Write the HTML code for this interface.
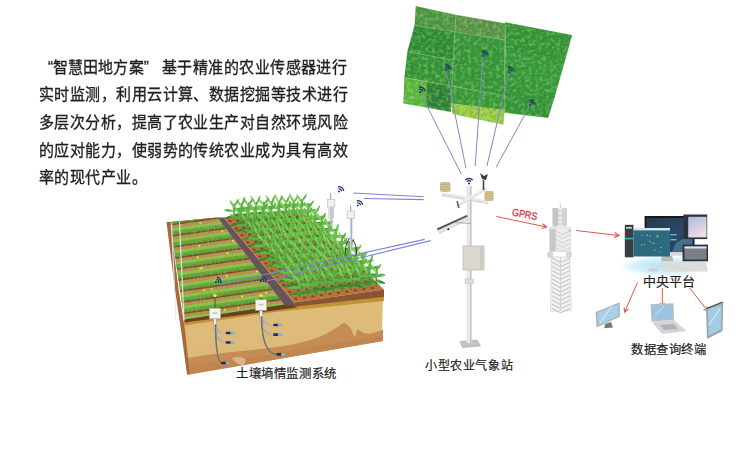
<!DOCTYPE html>
<html lang="zh-CN"><head><meta charset="utf-8"><style>
html,body{margin:0;padding:0;background:#fff;}
body{width:750px;height:473px;overflow:hidden;position:relative;font-family:"Liberation Sans",sans-serif;color:#222;}
.t{position:absolute;white-space:nowrap;font-size:15px;line-height:20px;letter-spacing:0.45px;color:#1f1f1f;-webkit-text-stroke:0.3px #1f1f1f;transform:scaleY(1.09);transform-origin:0 3px;}
.lb{position:absolute;white-space:nowrap;line-height:16px;color:#1e1e1e;-webkit-text-stroke:0.2px #1e1e1e;}
svg{position:absolute;left:0;top:0;}
</style></head><body>
<svg width="750" height="473" viewBox="0 0 750 473">
<defs>
<clipPath id="fclip"><polygon points="415.9,6.3 455.9,15.0 454.6,31.5 414.7,25.4" fill="#000" /><polygon points="455.9,15.0 505.2,23.5 504.8,40.0 454.6,31.5" fill="#000" /><polygon points="414.7,25.4 454.6,31.5 453.0,60.0 407.5,51.7" fill="#000" /><polygon points="407.5,51.7 453.0,60.0 451.5,86.0 404.5,77.5" fill="#000" /><polygon points="404.5,77.5 427.2,82.0 427.2,107.5 403.5,103.3" fill="#000" /><polygon points="427.2,82.0 451.5,86.0 450.8,111.8 427.2,107.5" fill="#000" /><polygon points="454.6,31.5 504.8,40.0 504.6,95.7 451.5,86.0" fill="#000" /><polygon points="451.5,86.0 504.6,95.7 504.6,110.0 451.0,103.5" fill="#000" /><polygon points="451.0,103.5 504.6,110.0 503.3,124.5 452.5,114.0" fill="#000" /><polygon points="505.2,22.7 571.8,35.4 565.5,58.5 505.5,48.0" fill="#000" /><polygon points="505.5,48.0 565.5,58.5 554.5,97.0 504.6,86.0" fill="#000" /><polygon points="504.6,86.0 554.5,97.0 548.0,117.7 504.6,112.5" fill="#000" /></clipPath>
<clipPath id="cornclip"><rect x="150" y="150" width="235" height="200"/></clipPath>
<clipPath id="gclip"><polygon points="170.0,222.0 217.4,217.4 284.8,305.5 184.5,320.5" fill="#000" /></clipPath>
<filter id="noise" x="0" y="0" width="1" height="1"><feTurbulence type="fractalNoise" baseFrequency="0.3" numOctaves="2" seed="5"/><feColorMatrix type="matrix" values="0 0 0 0 0.05  0 0 0 0 0.25  0 0 0 0 0.05  1.3 0 0 0 -0.55"/></filter>
<filter id="noiseL" x="0" y="0" width="1" height="1"><feTurbulence type="fractalNoise" baseFrequency="0.28" numOctaves="3" seed="11"/><feColorMatrix type="matrix" values="0 0 0 0 0.42  0 0 0 0 0.78  0 0 0 0 0.25  1.1 0 0 0 -0.47"/></filter>
<filter id="noise2" x="0" y="0" width="1" height="1"><feTurbulence type="fractalNoise" baseFrequency="1.5 0.2" numOctaves="1" seed="9"/><feColorMatrix type="matrix" values="0 0 0 0 0.3  0 0 0 0 0.55  0 0 0 0 0.15  1.2 0 0 0 -0.5"/></filter>
<linearGradient id="sand" x1="0" y1="0" x2="0" y2="1"><stop offset="0" stop-color="#dfbd78"/><stop offset="1" stop-color="#dcb87a"/></linearGradient>
<linearGradient id="fadew" x1="0" y1="0" x2="0" y2="1"><stop offset="0" stop-color="#fff" stop-opacity="0"/><stop offset="1" stop-color="#f4ece0" stop-opacity="0.8"/></linearGradient>
<radialGradient id="glow"><stop offset="0" stop-color="#b4e2f0"/><stop offset="0.65" stop-color="#d2eef8" stop-opacity="0.8"/><stop offset="1" stop-color="#fff" stop-opacity="0"/></radialGradient>
<linearGradient id="tabg" x1="0" y1="0" x2="0.4" y2="1"><stop offset="0" stop-color="#a8c0e0"/><stop offset="0.6" stop-color="#d4cce0"/><stop offset="1" stop-color="#f0dce6"/></linearGradient>
<linearGradient id="monb" x1="0" y1="0" x2="1" y2="1"><stop offset="0" stop-color="#25384e"/><stop offset="0.6" stop-color="#2c4a66"/><stop offset="1" stop-color="#1c2c40"/></linearGradient>
</defs>
<g id="fld"><polygon points="415.9,6.3 455.9,15.0 454.6,31.5 414.7,25.4" fill="#4e9440" stroke="#4e9440" stroke-width="0.3"/><polygon points="455.9,15.0 505.2,23.5 504.8,40.0 454.6,31.5" fill="#5c924a" stroke="#5c924a" stroke-width="0.3"/><polygon points="414.7,25.4 454.6,31.5 453.0,60.0 407.5,51.7" fill="#2a8a32" stroke="#2a8a32" stroke-width="0.3"/><polygon points="407.5,51.7 453.0,60.0 451.5,86.0 404.5,77.5" fill="#309236" stroke="#309236" stroke-width="0.3"/><polygon points="404.5,77.5 427.2,82.0 427.2,107.5 403.5,103.3" fill="#5cb83c" stroke="#5cb83c" stroke-width="0.3"/><polygon points="427.2,82.0 451.5,86.0 450.8,111.8 427.2,107.5" fill="#2b7e34" stroke="#2b7e34" stroke-width="0.3"/><polygon points="454.6,31.5 504.8,40.0 504.6,95.7 451.5,86.0" fill="#349438" stroke="#349438" stroke-width="0.3"/><polygon points="451.5,86.0 504.6,95.7 504.6,110.0 451.0,103.5" fill="#379836" stroke="#379836" stroke-width="0.3"/><polygon points="451.0,103.5 504.6,110.0 503.3,124.5 452.5,114.0" fill="#a4d044" stroke="#a4d044" stroke-width="0.3"/><polygon points="505.2,22.7 571.8,35.4 565.5,58.5 505.5,48.0" fill="#2f9334" stroke="#2f9334" stroke-width="0.3"/><polygon points="505.5,48.0 565.5,58.5 554.5,97.0 504.6,86.0" fill="#34983a" stroke="#34983a" stroke-width="0.3"/><polygon points="504.6,86.0 554.5,97.0 548.0,117.7 504.6,112.5" fill="#329336" stroke="#329336" stroke-width="0.3"/></g><g clip-path="url(#fclip)"><rect x="400" y="0" width="175" height="130" filter="url(#noise)"/><rect x="400" y="0" width="175" height="130" filter="url(#noiseL)"/></g><line x1="414.7" y1="25.4" x2="504.8" y2="40.0" stroke="#a8d080" stroke-width="0.70" opacity="0.6"/><line x1="407.5" y1="51.7" x2="453.0" y2="60.0" stroke="#a8d080" stroke-width="0.70" opacity="0.6"/><line x1="404.5" y1="77.5" x2="504.6" y2="95.7" stroke="#a8d080" stroke-width="0.70" opacity="0.6"/><line x1="455.9" y1="15.0" x2="451.0" y2="104.0" stroke="#a8d080" stroke-width="0.70" opacity="0.6"/><line x1="505.2" y1="22.7" x2="504.6" y2="112.5" stroke="#a8d080" stroke-width="0.70" opacity="0.6"/><line x1="505.5" y1="48.0" x2="565.5" y2="58.5" stroke="#1f6a26" stroke-width="0.70" opacity="0.6"/><line x1="504.6" y1="86.0" x2="554.5" y2="97.0" stroke="#1f6a26" stroke-width="0.70" opacity="0.6"/><line x1="427.2" y1="82.0" x2="427.2" y2="107.5" stroke="#1f6a26" stroke-width="0.70" opacity="0.6"/><line x1="505.2" y1="22.7" x2="571.8" y2="35.4" stroke="#1f6a26" stroke-width="0.70" opacity="0.6"/><line x1="420.0" y1="92.0" x2="461.3" y2="174.2" stroke="#7f88cc" stroke-width="1.00" /><line x1="446.0" y1="70.0" x2="466.0" y2="168.4" stroke="#7f88cc" stroke-width="1.00" /><line x1="483.0" y1="56.0" x2="475.2" y2="166.0" stroke="#7f88cc" stroke-width="1.00" /><line x1="509.0" y1="72.0" x2="486.9" y2="166.0" stroke="#7f88cc" stroke-width="1.00" /><line x1="530.0" y1="105.0" x2="496.2" y2="167.2" stroke="#7f88cc" stroke-width="1.00" /><g transform="translate(420.0,92.0) rotate(35.0) scale(1.05)"><circle cx="0" cy="0" r="1" fill="#28336e"/><path d="M-2.00,-1.81 A2.7,2.7 0 0 1 2.00,-1.81" fill="none" stroke="#28336e" stroke-width="1.30"/><path d="M-3.55,-3.22 A4.8,4.8 0 0 1 3.55,-3.22" fill="none" stroke="#28336e" stroke-width="1.30"/></g><g transform="translate(446.0,70.0) rotate(35.0) scale(1.05)"><circle cx="0" cy="0" r="1" fill="#28336e"/><path d="M-2.00,-1.81 A2.7,2.7 0 0 1 2.00,-1.81" fill="none" stroke="#28336e" stroke-width="1.30"/><path d="M-3.55,-3.22 A4.8,4.8 0 0 1 3.55,-3.22" fill="none" stroke="#28336e" stroke-width="1.30"/></g><g transform="translate(483.0,56.0) rotate(35.0) scale(1.05)"><circle cx="0" cy="0" r="1" fill="#28336e"/><path d="M-2.00,-1.81 A2.7,2.7 0 0 1 2.00,-1.81" fill="none" stroke="#28336e" stroke-width="1.30"/><path d="M-3.55,-3.22 A4.8,4.8 0 0 1 3.55,-3.22" fill="none" stroke="#28336e" stroke-width="1.30"/></g><g transform="translate(509.0,72.0) rotate(35.0) scale(1.05)"><circle cx="0" cy="0" r="1" fill="#28336e"/><path d="M-2.00,-1.81 A2.7,2.7 0 0 1 2.00,-1.81" fill="none" stroke="#28336e" stroke-width="1.30"/><path d="M-3.55,-3.22 A4.8,4.8 0 0 1 3.55,-3.22" fill="none" stroke="#28336e" stroke-width="1.30"/></g><g transform="translate(530.0,105.0) rotate(35.0) scale(1.05)"><circle cx="0" cy="0" r="1" fill="#28336e"/><path d="M-2.00,-1.81 A2.7,2.7 0 0 1 2.00,-1.81" fill="none" stroke="#28336e" stroke-width="1.30"/><path d="M-3.55,-3.22 A4.8,4.8 0 0 1 3.55,-3.22" fill="none" stroke="#28336e" stroke-width="1.30"/></g><polygon points="183.5,321.0 275.0,307.5 310.0,304.0 383.0,293.5 381.8,341.0 189.0,374.5" fill="url(#sand)"/><path d="M187,358 C220,352 262,350 290,345 C300,343 310,340 317,338 C322,336 326,334 329,332 C333,330 336,328 339,326 C341,324.5 343,322.5 345,323 C347,324 349,326 351,329 C352.5,332 353.5,336 355,336.5 C356,334 356.5,330 358,329.8 C360,330 361,332 363,332.8 C366,333.5 369,334 371,333.5 C374,333 377,331.5 383,329.5 L383,341 L188.7,374.5 Z" fill="#c68c56"/><path d="M187,366 C210,362 250,360 280,352 L383,336 L383,341 L188.7,374.5 Z" fill="#bb7f4a" opacity="0.45"/><path d="M232,358 C238,356 244,357 246,360 L243,366 C238,364 234,362 232,358 Z" fill="#e2c8a8" opacity="0.7"/><polygon points="184.5,321.5 275,308 310,304.5 384,297 384,301 310,308.5 275,312 184.5,325.5" fill="#c29236"/><polygon points="166.5,222.0 170.0,221.7 178.7,290.0 185.0,330.0 189.7,374.5 187.0,374.5 181.0,330.0 175.0,290.0" fill="#a8683a" /><polygon points="170.0,222.0 217.4,217.4 284.8,305.5 184.5,320.5" fill="#c08850" /><g clip-path="url(#gclip)"><polygon points="160.0,218.6 300.0,198.7 300.0,205.6 160.0,225.5" fill="#62a636" /><polygon points="160.0,218.6 300.0,198.7 300.0,201.7 160.0,221.6" fill="#96c04c" opacity="0.90"/><polygon points="160.0,224.0 300.0,204.1 300.0,205.6 160.0,225.5" fill="#4f9530" opacity="0.70"/><polygon points="160.0,214.2 300.0,194.3 300.0,195.8 160.0,215.7" fill="#6a4020" opacity="0.90"/><circle cx="219.3" cy="209.1" r="1.1" fill="#f2e23c"/><circle cx="206.3" cy="211.0" r="1.1" fill="#f2e23c"/><polygon points="160.0,229.9 300.0,210.0 300.0,216.9 160.0,236.8" fill="#62a636" /><polygon points="160.0,229.9 300.0,210.0 300.0,213.0 160.0,232.9" fill="#96c04c" opacity="0.90"/><polygon points="160.0,235.3 300.0,215.4 300.0,216.9 160.0,236.8" fill="#4f9530" opacity="0.70"/><polygon points="160.0,225.5 300.0,205.6 300.0,207.1 160.0,227.0" fill="#6a4020" opacity="0.90"/><circle cx="243.8" cy="217.0" r="1.1" fill="#f2e23c"/><circle cx="200.4" cy="223.1" r="1.1" fill="#f2e23c"/><polygon points="160.0,241.2 300.0,221.3 300.0,228.2 160.0,248.1" fill="#62a636" /><polygon points="160.0,241.2 300.0,221.3 300.0,224.3 160.0,244.2" fill="#96c04c" opacity="0.90"/><polygon points="160.0,246.6 300.0,226.7 300.0,228.2 160.0,248.1" fill="#4f9530" opacity="0.70"/><polygon points="160.0,236.8 300.0,216.9 300.0,218.4 160.0,238.3" fill="#6a4020" opacity="0.90"/><circle cx="235.2" cy="229.5" r="1.1" fill="#f2e23c"/><circle cx="222.4" cy="231.3" r="1.1" fill="#f2e23c"/><polygon points="160.0,252.5 300.0,232.6 300.0,239.5 160.0,259.4" fill="#62a636" /><polygon points="160.0,252.5 300.0,232.6 300.0,235.6 160.0,255.5" fill="#96c04c" opacity="0.90"/><polygon points="160.0,257.9 300.0,238.0 300.0,239.5 160.0,259.4" fill="#4f9530" opacity="0.70"/><polygon points="160.0,248.1 300.0,228.2 300.0,229.7 160.0,249.6" fill="#6a4020" opacity="0.90"/><circle cx="199.3" cy="245.9" r="1.1" fill="#f2e23c"/><circle cx="233.1" cy="241.1" r="1.1" fill="#f2e23c"/><polygon points="160.0,263.8 300.0,243.9 300.0,250.8 160.0,270.7" fill="#62a636" /><polygon points="160.0,263.8 300.0,243.9 300.0,246.9 160.0,266.8" fill="#96c04c" opacity="0.90"/><polygon points="160.0,269.2 300.0,249.3 300.0,250.8 160.0,270.7" fill="#4f9530" opacity="0.70"/><polygon points="160.0,259.4 300.0,239.5 300.0,241.0 160.0,260.9" fill="#6a4020" opacity="0.90"/><circle cx="197.8" cy="257.4" r="1.1" fill="#f2e23c"/><circle cx="227.5" cy="253.2" r="1.1" fill="#f2e23c"/><polygon points="160.0,275.1 300.0,255.2 300.0,262.1 160.0,282.0" fill="#62a636" /><polygon points="160.0,275.1 300.0,255.2 300.0,258.2 160.0,278.1" fill="#96c04c" opacity="0.90"/><polygon points="160.0,280.5 300.0,260.6 300.0,262.1 160.0,282.0" fill="#4f9530" opacity="0.70"/><polygon points="160.0,270.7 300.0,250.8 300.0,252.3 160.0,272.2" fill="#6a4020" opacity="0.90"/><circle cx="200.2" cy="268.4" r="1.1" fill="#f2e23c"/><circle cx="201.8" cy="268.1" r="1.1" fill="#f2e23c"/><polygon points="160.0,286.4 300.0,266.5 300.0,273.4 160.0,293.3" fill="#62a636" /><polygon points="160.0,286.4 300.0,266.5 300.0,269.5 160.0,289.4" fill="#96c04c" opacity="0.90"/><polygon points="160.0,291.8 300.0,271.9 300.0,273.4 160.0,293.3" fill="#4f9530" opacity="0.70"/><polygon points="160.0,282.0 300.0,262.1 300.0,263.6 160.0,283.5" fill="#6a4020" opacity="0.90"/><circle cx="226.8" cy="275.9" r="1.1" fill="#f2e23c"/><circle cx="257.0" cy="271.6" r="1.1" fill="#f2e23c"/><polygon points="160.0,297.7 300.0,277.8 300.0,284.7 160.0,304.6" fill="#62a636" /><polygon points="160.0,297.7 300.0,277.8 300.0,280.8 160.0,300.7" fill="#96c04c" opacity="0.90"/><polygon points="160.0,303.1 300.0,283.2 300.0,284.7 160.0,304.6" fill="#4f9530" opacity="0.70"/><polygon points="160.0,293.3 300.0,273.4 300.0,274.9 160.0,294.8" fill="#6a4020" opacity="0.90"/><circle cx="204.3" cy="290.4" r="1.1" fill="#f2e23c"/><circle cx="211.7" cy="289.3" r="1.1" fill="#f2e23c"/><polygon points="160.0,309.0 300.0,289.1 300.0,296.0 160.0,315.9" fill="#62a636" /><polygon points="160.0,309.0 300.0,289.1 300.0,292.1 160.0,312.0" fill="#96c04c" opacity="0.90"/><polygon points="160.0,314.4 300.0,294.5 300.0,296.0 160.0,315.9" fill="#4f9530" opacity="0.70"/><polygon points="160.0,304.6 300.0,284.7 300.0,286.2 160.0,306.1" fill="#6a4020" opacity="0.90"/><circle cx="242.1" cy="296.3" r="1.1" fill="#f2e23c"/><circle cx="266.1" cy="292.9" r="1.1" fill="#f2e23c"/><polygon points="160.0,320.3 300.0,300.4 300.0,307.3 160.0,327.2" fill="#62a636" /><polygon points="160.0,320.3 300.0,300.4 300.0,303.4 160.0,323.3" fill="#96c04c" opacity="0.90"/><polygon points="160.0,325.7 300.0,305.8 300.0,307.3 160.0,327.2" fill="#4f9530" opacity="0.70"/><polygon points="160.0,315.9 300.0,296.0 300.0,297.5 160.0,317.4" fill="#6a4020" opacity="0.90"/><circle cx="238.3" cy="308.1" r="1.1" fill="#f2e23c"/><circle cx="224.8" cy="310.1" r="1.1" fill="#f2e23c"/><polygon points="160.0,331.6 300.0,311.7 300.0,318.6 160.0,338.5" fill="#62a636" /><polygon points="160.0,331.6 300.0,311.7 300.0,314.7 160.0,334.6" fill="#96c04c" opacity="0.90"/><polygon points="160.0,337.0 300.0,317.1 300.0,318.6 160.0,338.5" fill="#4f9530" opacity="0.70"/><polygon points="160.0,327.2 300.0,307.3 300.0,308.8 160.0,328.7" fill="#6a4020" opacity="0.90"/><circle cx="268.2" cy="315.2" r="1.1" fill="#f2e23c"/><circle cx="198.5" cy="325.1" r="1.1" fill="#f2e23c"/><polygon points="160.0,342.9 300.0,323.0 300.0,329.9 160.0,349.8" fill="#62a636" /><polygon points="160.0,342.9 300.0,323.0 300.0,326.0 160.0,345.9" fill="#96c04c" opacity="0.90"/><polygon points="160.0,348.3 300.0,328.4 300.0,329.9 160.0,349.8" fill="#4f9530" opacity="0.70"/><polygon points="160.0,338.5 300.0,318.6 300.0,320.1 160.0,340.0" fill="#6a4020" opacity="0.90"/><circle cx="259.4" cy="327.8" r="1.1" fill="#f2e23c"/><circle cx="216.7" cy="333.8" r="1.1" fill="#f2e23c"/><rect x="160" y="210" width="140" height="120" filter="url(#noise2)"/></g><polygon points="184.5,319.5 284.8,304.5 296.5,304.5 296.5,307.5 184.5,322.5" fill="#6a4020"/><line x1="171.5" y1="223.0" x2="176.0" y2="320.0" stroke="#d6eef5" stroke-width="1.20" opacity="0.9"/><line x1="179.5" y1="222.0" x2="184.0" y2="320.0" stroke="#d6eef5" stroke-width="1.20" opacity="0.9"/><polygon points="217.4,217.4 223.7,217.4 296.5,305.5 284.8,305.5" fill="#6a5356" /><polygon points="223.5,217.2 302.0,212.0 384.0,289.6 294.2,302.6" fill="#b8743e" /><polygon points="294.2,302.6 384.0,289.6 384.0,297.0 296.0,306.5 294.2,306.5" fill="#8a5530" /><polygon points="229.0,213.8 302.0,209.0 384.0,283.6 300.5,296.7" fill="#6aa845" opacity="0.45" stroke="none"/><ellipse cx="297.7" cy="216.5" rx="1.8" ry="1.1" fill="#8a4222"/><ellipse cx="290.1" cy="217.0" rx="1.8" ry="1.1" fill="#8a4222"/><ellipse cx="282.6" cy="217.5" rx="1.8" ry="1.1" fill="#8a4222"/><ellipse cx="275.1" cy="218.1" rx="1.8" ry="1.1" fill="#8a4222"/><ellipse cx="267.6" cy="218.6" rx="1.8" ry="1.1" fill="#8a4222"/><ellipse cx="260.1" cy="219.1" rx="1.8" ry="1.1" fill="#8a4222"/><ellipse cx="252.5" cy="219.7" rx="1.8" ry="1.1" fill="#8a4222"/><ellipse cx="245.0" cy="220.2" rx="1.8" ry="1.1" fill="#8a4222"/><ellipse cx="237.5" cy="220.7" rx="1.8" ry="1.1" fill="#8a4222"/><ellipse cx="230.0" cy="221.2" rx="1.8" ry="1.1" fill="#8a4222"/><ellipse cx="304.4" cy="223.0" rx="1.8" ry="1.1" fill="#8a4222"/><ellipse cx="296.8" cy="223.6" rx="1.8" ry="1.1" fill="#8a4222"/><ellipse cx="289.2" cy="224.2" rx="1.8" ry="1.1" fill="#8a4222"/><ellipse cx="281.6" cy="224.8" rx="1.8" ry="1.1" fill="#8a4222"/><ellipse cx="274.0" cy="225.3" rx="1.8" ry="1.1" fill="#8a4222"/><ellipse cx="266.4" cy="225.9" rx="1.8" ry="1.1" fill="#8a4222"/><ellipse cx="258.8" cy="226.5" rx="1.8" ry="1.1" fill="#8a4222"/><ellipse cx="251.2" cy="227.1" rx="1.8" ry="1.1" fill="#8a4222"/><ellipse cx="243.6" cy="227.7" rx="1.8" ry="1.1" fill="#8a4222"/><ellipse cx="235.9" cy="228.3" rx="1.8" ry="1.1" fill="#8a4222"/><ellipse cx="311.2" cy="229.5" rx="1.8" ry="1.1" fill="#8a4222"/><ellipse cx="303.5" cy="230.1" rx="1.8" ry="1.1" fill="#8a4222"/><ellipse cx="295.8" cy="230.8" rx="1.8" ry="1.1" fill="#8a4222"/><ellipse cx="288.1" cy="231.4" rx="1.8" ry="1.1" fill="#8a4222"/><ellipse cx="280.4" cy="232.1" rx="1.8" ry="1.1" fill="#8a4222"/><ellipse cx="272.7" cy="232.7" rx="1.8" ry="1.1" fill="#8a4222"/><ellipse cx="265.0" cy="233.4" rx="1.8" ry="1.1" fill="#8a4222"/><ellipse cx="257.3" cy="234.0" rx="1.8" ry="1.1" fill="#8a4222"/><ellipse cx="249.6" cy="234.7" rx="1.8" ry="1.1" fill="#8a4222"/><ellipse cx="241.9" cy="235.3" rx="1.8" ry="1.1" fill="#8a4222"/><ellipse cx="318.0" cy="236.0" rx="1.8" ry="1.1" fill="#8a4222"/><ellipse cx="310.2" cy="236.7" rx="1.8" ry="1.1" fill="#8a4222"/><ellipse cx="302.4" cy="237.4" rx="1.8" ry="1.1" fill="#8a4222"/><ellipse cx="294.7" cy="238.1" rx="1.8" ry="1.1" fill="#8a4222"/><ellipse cx="286.9" cy="238.8" rx="1.8" ry="1.1" fill="#8a4222"/><ellipse cx="279.1" cy="239.5" rx="1.8" ry="1.1" fill="#8a4222"/><ellipse cx="271.3" cy="240.3" rx="1.8" ry="1.1" fill="#8a4222"/><ellipse cx="263.5" cy="241.0" rx="1.8" ry="1.1" fill="#8a4222"/><ellipse cx="255.7" cy="241.7" rx="1.8" ry="1.1" fill="#8a4222"/><ellipse cx="247.9" cy="242.4" rx="1.8" ry="1.1" fill="#8a4222"/><ellipse cx="324.8" cy="242.5" rx="1.8" ry="1.1" fill="#8a4222"/><ellipse cx="316.9" cy="243.3" rx="1.8" ry="1.1" fill="#8a4222"/><ellipse cx="309.1" cy="244.0" rx="1.8" ry="1.1" fill="#8a4222"/><ellipse cx="301.2" cy="244.8" rx="1.8" ry="1.1" fill="#8a4222"/><ellipse cx="293.3" cy="245.6" rx="1.8" ry="1.1" fill="#8a4222"/><ellipse cx="285.4" cy="246.4" rx="1.8" ry="1.1" fill="#8a4222"/><ellipse cx="277.5" cy="247.1" rx="1.8" ry="1.1" fill="#8a4222"/><ellipse cx="269.7" cy="247.9" rx="1.8" ry="1.1" fill="#8a4222"/><ellipse cx="261.8" cy="248.7" rx="1.8" ry="1.1" fill="#8a4222"/><ellipse cx="331.6" cy="249.0" rx="1.8" ry="1.1" fill="#8a4222"/><ellipse cx="253.9" cy="249.5" rx="1.8" ry="1.1" fill="#8a4222"/><ellipse cx="323.6" cy="249.8" rx="1.8" ry="1.1" fill="#8a4222"/><ellipse cx="315.7" cy="250.7" rx="1.8" ry="1.1" fill="#8a4222"/><ellipse cx="307.7" cy="251.5" rx="1.8" ry="1.1" fill="#8a4222"/><ellipse cx="299.7" cy="252.3" rx="1.8" ry="1.1" fill="#8a4222"/><ellipse cx="291.8" cy="253.2" rx="1.8" ry="1.1" fill="#8a4222"/><ellipse cx="283.8" cy="254.0" rx="1.8" ry="1.1" fill="#8a4222"/><ellipse cx="275.8" cy="254.8" rx="1.8" ry="1.1" fill="#8a4222"/><ellipse cx="338.4" cy="255.5" rx="1.8" ry="1.1" fill="#8a4222"/><ellipse cx="267.8" cy="255.7" rx="1.8" ry="1.1" fill="#8a4222"/><ellipse cx="330.3" cy="256.4" rx="1.8" ry="1.1" fill="#8a4222"/><ellipse cx="259.9" cy="256.5" rx="1.8" ry="1.1" fill="#8a4222"/><ellipse cx="322.3" cy="257.3" rx="1.8" ry="1.1" fill="#8a4222"/><ellipse cx="314.2" cy="258.2" rx="1.8" ry="1.1" fill="#8a4222"/><ellipse cx="306.2" cy="259.1" rx="1.8" ry="1.1" fill="#8a4222"/><ellipse cx="298.1" cy="260.0" rx="1.8" ry="1.1" fill="#8a4222"/><ellipse cx="290.0" cy="260.9" rx="1.8" ry="1.1" fill="#8a4222"/><ellipse cx="282.0" cy="261.8" rx="1.8" ry="1.1" fill="#8a4222"/><ellipse cx="345.2" cy="262.0" rx="1.8" ry="1.1" fill="#8a4222"/><ellipse cx="273.9" cy="262.7" rx="1.8" ry="1.1" fill="#8a4222"/><ellipse cx="337.0" cy="262.9" rx="1.8" ry="1.1" fill="#8a4222"/><ellipse cx="265.9" cy="263.6" rx="1.8" ry="1.1" fill="#8a4222"/><ellipse cx="328.9" cy="263.9" rx="1.8" ry="1.1" fill="#8a4222"/><ellipse cx="320.7" cy="264.9" rx="1.8" ry="1.1" fill="#8a4222"/><ellipse cx="312.6" cy="265.8" rx="1.8" ry="1.1" fill="#8a4222"/><ellipse cx="304.4" cy="266.8" rx="1.8" ry="1.1" fill="#8a4222"/><ellipse cx="296.3" cy="267.7" rx="1.8" ry="1.1" fill="#8a4222"/><ellipse cx="352.0" cy="268.5" rx="1.8" ry="1.1" fill="#8a4222"/><ellipse cx="288.1" cy="268.7" rx="1.8" ry="1.1" fill="#8a4222"/><ellipse cx="343.7" cy="269.5" rx="1.8" ry="1.1" fill="#8a4222"/><ellipse cx="280.0" cy="269.7" rx="1.8" ry="1.1" fill="#8a4222"/><ellipse cx="335.5" cy="270.5" rx="1.8" ry="1.1" fill="#8a4222"/><ellipse cx="271.8" cy="270.6" rx="1.8" ry="1.1" fill="#8a4222"/><ellipse cx="327.2" cy="271.5" rx="1.8" ry="1.1" fill="#8a4222"/><ellipse cx="319.0" cy="272.6" rx="1.8" ry="1.1" fill="#8a4222"/><ellipse cx="310.8" cy="273.6" rx="1.8" ry="1.1" fill="#8a4222"/><ellipse cx="302.5" cy="274.6" rx="1.8" ry="1.1" fill="#8a4222"/><ellipse cx="358.8" cy="275.0" rx="1.8" ry="1.1" fill="#8a4222"/><ellipse cx="294.3" cy="275.6" rx="1.8" ry="1.1" fill="#8a4222"/><ellipse cx="350.4" cy="276.1" rx="1.8" ry="1.1" fill="#8a4222"/><ellipse cx="286.1" cy="276.6" rx="1.8" ry="1.1" fill="#8a4222"/><ellipse cx="342.1" cy="277.1" rx="1.8" ry="1.1" fill="#8a4222"/><ellipse cx="277.8" cy="277.7" rx="1.8" ry="1.1" fill="#8a4222"/><ellipse cx="333.8" cy="278.2" rx="1.8" ry="1.1" fill="#8a4222"/><ellipse cx="325.4" cy="279.3" rx="1.8" ry="1.1" fill="#8a4222"/><ellipse cx="317.1" cy="280.4" rx="1.8" ry="1.1" fill="#8a4222"/><ellipse cx="365.5" cy="281.5" rx="1.8" ry="1.1" fill="#8a4222"/><ellipse cx="308.8" cy="281.5" rx="1.8" ry="1.1" fill="#8a4222"/><ellipse cx="300.5" cy="282.6" rx="1.8" ry="1.1" fill="#8a4222"/><ellipse cx="357.1" cy="282.6" rx="1.8" ry="1.1" fill="#8a4222"/><ellipse cx="292.1" cy="283.6" rx="1.8" ry="1.1" fill="#8a4222"/><ellipse cx="348.7" cy="283.8" rx="1.8" ry="1.1" fill="#8a4222"/><ellipse cx="283.8" cy="284.7" rx="1.8" ry="1.1" fill="#8a4222"/><ellipse cx="340.3" cy="284.9" rx="1.8" ry="1.1" fill="#8a4222"/><ellipse cx="331.9" cy="286.1" rx="1.8" ry="1.1" fill="#8a4222"/><ellipse cx="323.5" cy="287.2" rx="1.8" ry="1.1" fill="#8a4222"/><ellipse cx="372.3" cy="288.0" rx="1.8" ry="1.1" fill="#8a4222"/><ellipse cx="315.0" cy="288.3" rx="1.8" ry="1.1" fill="#8a4222"/><ellipse cx="363.8" cy="289.2" rx="1.8" ry="1.1" fill="#8a4222"/><ellipse cx="306.6" cy="289.5" rx="1.8" ry="1.1" fill="#8a4222"/><ellipse cx="355.3" cy="290.4" rx="1.8" ry="1.1" fill="#8a4222"/><ellipse cx="298.2" cy="290.6" rx="1.8" ry="1.1" fill="#8a4222"/><ellipse cx="346.8" cy="291.6" rx="1.8" ry="1.1" fill="#8a4222"/><ellipse cx="289.8" cy="291.8" rx="1.8" ry="1.1" fill="#8a4222"/><ellipse cx="338.3" cy="292.8" rx="1.8" ry="1.1" fill="#8a4222"/><ellipse cx="329.8" cy="294.0" rx="1.8" ry="1.1" fill="#8a4222"/><ellipse cx="321.3" cy="295.2" rx="1.8" ry="1.1" fill="#8a4222"/><ellipse cx="312.8" cy="296.4" rx="1.8" ry="1.1" fill="#8a4222"/><ellipse cx="304.3" cy="297.6" rx="1.8" ry="1.1" fill="#8a4222"/><ellipse cx="295.8" cy="298.8" rx="1.8" ry="1.1" fill="#8a4222"/><g clip-path="url(#cornclip)"><path d="M301.7,215.5 L301.7,198.9" stroke="#3a8e34" stroke-width="1.1"/><path d="M301.7,211.1 Q296.0,209.3 291.9,213.9 Q297.5,214.5 301.7,211.1 Z" fill="#3a8e34"/><path d="M301.7,210.0 Q305.3,213.1 310.2,212.2 Q306.6,207.9 301.7,210.0 Z" fill="#3a8e34"/><path d="M301.7,206.6 Q297.1,202.0 291.2,204.1 Q295.8,207.5 301.7,206.6 Z" fill="#58b042"/><path d="M301.7,205.5 Q306.9,207.3 311.7,204.6 Q306.4,201.7 301.7,205.5 Z" fill="#58b042"/><path d="M301.7,208.8 Q304.4,203.3 301.9,198.9 Q299.2,203.2 301.7,208.8 Z" fill="#58b042"/><path d="M301.7,203.3 Q300.8,196.8 296.3,193.4 Q297.1,198.8 301.7,203.3 Z" fill="#82cc56"/><path d="M301.7,202.2 Q306.1,198.4 307.1,193.7 Q302.6,196.2 301.7,202.2 Z" fill="#58b042"/><path d="M294.1,216.0 L293.9,199.4" stroke="#429638" stroke-width="1.1"/><path d="M294.1,211.6 Q287.8,210.0 283.0,214.8 Q289.3,215.2 294.1,211.6 Z" fill="#429638"/><path d="M294.1,210.5 Q298.0,213.2 302.6,211.8 Q298.8,207.9 294.1,210.5 Z" fill="#429638"/><path d="M294.1,207.2 Q290.0,203.0 284.8,205.5 Q289.0,208.5 294.1,207.2 Z" fill="#6abd4a"/><path d="M294.1,206.0 Q298.9,207.9 303.3,205.3 Q298.5,202.3 294.1,206.0 Z" fill="#6abd4a"/><path d="M294.1,209.4 Q296.3,203.6 293.4,199.4 Q291.2,204.0 294.1,209.4 Z" fill="#6abd4a"/><path d="M294.1,203.8 Q293.4,196.8 288.9,192.7 Q289.6,198.5 294.1,203.8 Z" fill="#7ac852"/><path d="M294.1,202.7 Q297.9,199.7 298.0,195.8 Q294.2,197.6 294.1,202.7 Z" fill="#6abd4a"/><path d="M286.6,216.5 L286.2,199.9" stroke="#429638" stroke-width="1.1"/><path d="M286.6,212.1 Q280.9,210.6 276.8,215.4 Q282.6,215.7 286.6,212.1 Z" fill="#429638"/><path d="M286.6,211.0 Q291.8,213.8 297.7,212.4 Q292.5,208.4 286.6,211.0 Z" fill="#429638"/><path d="M286.6,207.7 Q282.0,203.7 276.8,206.6 Q281.4,209.3 286.6,207.7 Z" fill="#5fb645"/><path d="M286.6,206.6 Q292.5,207.4 297.0,203.9 Q291.1,201.9 286.6,206.6 Z" fill="#5fb645"/><path d="M286.6,209.9 Q288.8,204.1 285.9,199.9 Q283.7,204.5 286.6,209.9 Z" fill="#5fb645"/><path d="M286.6,204.4 Q285.3,198.0 280.5,195.1 Q281.8,200.3 286.6,204.4 Z" fill="#8cd25c"/><path d="M286.6,203.2 Q290.0,199.6 289.5,195.6 Q286.1,198.1 286.6,203.2 Z" fill="#5fb645"/><path d="M279.1,217.1 L279.6,200.4" stroke="#429638" stroke-width="1.1"/><path d="M279.1,212.6 Q274.2,210.1 270.3,214.1 Q275.1,215.4 279.1,212.6 Z" fill="#429638"/><path d="M279.1,211.5 Q283.2,214.8 288.7,214.1 Q284.6,209.6 279.1,211.5 Z" fill="#429638"/><path d="M279.1,208.2 Q273.9,204.2 268.1,207.0 Q273.3,209.8 279.1,208.2 Z" fill="#58b042"/><path d="M279.1,207.1 Q284.0,207.9 287.2,204.6 Q282.3,202.6 279.1,207.1 Z" fill="#58b042"/><path d="M279.1,210.4 Q281.3,204.6 278.3,200.4 Q276.1,205.0 279.1,210.4 Z" fill="#58b042"/><path d="M279.1,204.9 Q278.9,197.9 274.7,193.6 Q275.0,199.4 279.1,204.9 Z" fill="#8cd25c"/><path d="M279.1,203.8 Q282.8,199.6 282.6,195.0 Q278.9,198.0 279.1,203.8 Z" fill="#58b042"/><path d="M271.6,217.6 L271.5,201.0" stroke="#429638" stroke-width="1.1"/><path d="M271.6,213.2 Q265.7,211.8 261.8,216.7 Q267.6,216.9 271.6,213.2 Z" fill="#429638"/><path d="M271.6,212.1 Q276.4,215.7 282.7,215.3 Q277.9,210.5 271.6,212.1 Z" fill="#429638"/><path d="M271.6,208.7 Q266.9,204.7 261.5,207.3 Q266.1,210.2 271.6,208.7 Z" fill="#5fb645"/><path d="M271.6,207.6 Q275.9,210.0 280.4,207.9 Q276.1,204.4 271.6,207.6 Z" fill="#5fb645"/><path d="M271.6,211.0 Q274.6,205.6 272.4,201.0 Q269.4,205.2 271.6,211.0 Z" fill="#5fb645"/><path d="M271.6,205.4 Q270.1,198.2 265.0,194.3 Q266.5,200.3 271.6,205.4 Z" fill="#82cc56"/><path d="M271.6,204.3 Q275.3,199.7 275.1,194.9 Q271.3,198.3 271.6,204.3 Z" fill="#5fb645"/><path d="M264.1,218.1 L263.8,201.5" stroke="#429638" stroke-width="1.1"/><path d="M264.1,213.7 Q257.7,211.4 252.3,215.6 Q258.6,216.7 264.1,213.7 Z" fill="#429638"/><path d="M264.1,212.6 Q268.2,215.7 273.6,214.8 Q269.4,210.5 264.1,212.6 Z" fill="#429638"/><path d="M264.1,209.3 Q260.4,205.6 256.3,208.8 Q260.0,211.2 264.1,209.3 Z" fill="#58b042"/><path d="M264.1,208.2 Q268.9,210.0 273.4,207.5 Q268.5,204.4 264.1,208.2 Z" fill="#58b042"/><path d="M264.1,211.5 Q266.8,206.0 264.4,201.5 Q261.6,205.8 264.1,211.5 Z" fill="#58b042"/><path d="M264.1,205.9 Q262.2,199.7 257.1,197.4 Q259.0,202.4 264.1,205.9 Z" fill="#82cc56"/><path d="M264.1,204.8 Q268.4,202.0 269.5,197.7 Q265.1,199.4 264.1,204.8 Z" fill="#58b042"/><path d="M256.5,218.7 L256.4,202.0" stroke="#368730" stroke-width="1.1"/><path d="M256.5,214.2 Q250.2,212.3 245.1,216.9 Q251.5,217.6 256.5,214.2 Z" fill="#368730"/><path d="M256.5,213.1 Q260.6,215.4 265.0,213.6 Q260.9,210.0 256.5,213.1 Z" fill="#368730"/><path d="M256.5,209.8 Q252.0,205.3 246.2,207.5 Q250.7,210.8 256.5,209.8 Z" fill="#6abd4a"/><path d="M256.5,208.7 Q261.7,209.4 265.3,206.0 Q260.1,204.1 256.5,208.7 Z" fill="#6abd4a"/><path d="M256.5,212.0 Q258.7,206.2 255.6,202.0 Q253.5,206.6 256.5,212.0 Z" fill="#6abd4a"/><path d="M256.5,206.5 Q255.1,199.1 250.0,195.1 Q251.4,201.2 256.5,206.5 Z" fill="#7ac852"/><path d="M256.5,205.4 Q260.5,200.5 260.5,195.2 Q256.5,198.9 256.5,205.4 Z" fill="#6abd4a"/><path d="M249.0,219.2 L248.7,202.6" stroke="#3a8e34" stroke-width="1.1"/><path d="M249.0,214.7 Q243.2,212.3 238.2,216.4 Q244.0,217.7 249.0,214.7 Z" fill="#3a8e34"/><path d="M249.0,213.6 Q253.6,216.1 258.5,214.3 Q253.9,210.7 249.0,213.6 Z" fill="#3a8e34"/><path d="M249.0,210.3 Q244.8,207.2 240.9,211.0 Q245.2,212.8 249.0,210.3 Z" fill="#58b042"/><path d="M249.0,209.2 Q254.0,210.8 258.2,208.0 Q253.3,205.2 249.0,209.2 Z" fill="#58b042"/><path d="M249.0,212.5 Q251.2,206.8 248.3,202.6 Q246.0,207.1 249.0,212.5 Z" fill="#58b042"/><path d="M249.0,207.0 Q247.4,200.0 242.3,196.5 Q243.9,202.3 249.0,207.0 Z" fill="#7ac852"/><path d="M249.0,205.9 Q252.7,202.6 252.6,198.6 Q248.9,200.7 249.0,205.9 Z" fill="#58b042"/><path d="M241.5,219.7 L241.2,203.1" stroke="#3a8e34" stroke-width="1.1"/><path d="M241.5,215.3 Q236.8,212.9 233.1,217.0 Q237.8,218.2 241.5,215.3 Z" fill="#3a8e34"/><path d="M241.5,214.2 Q246.0,217.9 252.1,217.6 Q247.6,212.7 241.5,214.2 Z" fill="#3a8e34"/><path d="M241.5,210.8 Q237.9,206.6 233.1,209.0 Q236.7,212.1 241.5,210.8 Z" fill="#58b042"/><path d="M241.5,209.7 Q247.1,210.6 251.3,207.2 Q245.7,205.1 241.5,209.7 Z" fill="#58b042"/><path d="M241.5,213.1 Q244.4,207.6 242.1,203.1 Q239.2,207.3 241.5,213.1 Z" fill="#58b042"/><path d="M241.5,207.5 Q240.6,201.5 236.2,199.0 Q237.1,203.8 241.5,207.5 Z" fill="#82cc56"/><path d="M241.5,206.4 Q245.4,201.9 245.4,197.0 Q241.5,200.3 241.5,206.4 Z" fill="#58b042"/><path d="M234.0,220.2 L234.1,203.6" stroke="#368730" stroke-width="1.1"/><path d="M234.0,215.8 Q228.3,214.3 224.4,219.0 Q230.0,219.4 234.0,215.8 Z" fill="#368730"/><path d="M234.0,214.7 Q239.2,217.2 244.9,215.6 Q239.6,211.9 234.0,214.7 Z" fill="#368730"/><path d="M234.0,211.4 Q229.2,207.3 223.7,209.9 Q228.5,212.8 234.0,211.4 Z" fill="#58b042"/><path d="M234.0,210.3 Q239.7,211.3 244.4,208.1 Q238.6,205.8 234.0,210.3 Z" fill="#58b042"/><path d="M234.0,213.6 Q236.6,208.0 234.0,203.6 Q231.4,208.0 234.0,213.6 Z" fill="#58b042"/><path d="M234.0,208.0 Q233.6,202.3 229.5,199.8 Q229.9,204.3 234.0,208.0 Z" fill="#7ac852"/><path d="M234.0,206.9 Q238.5,203.2 239.4,198.4 Q234.9,200.9 234.0,206.9 Z" fill="#58b042"/><path d="M308.4,222.0 L308.9,205.1" stroke="#3a8e34" stroke-width="1.1"/><path d="M308.4,217.5 Q302.3,216.3 298.1,221.3 Q304.2,221.3 308.4,217.5 Z" fill="#3a8e34"/><path d="M308.4,216.4 Q313.6,220.2 320.3,220.0 Q315.2,215.0 308.4,216.4 Z" fill="#3a8e34"/><path d="M308.4,213.0 Q304.1,208.6 298.5,210.9 Q302.9,214.1 308.4,213.0 Z" fill="#58b042"/><path d="M308.4,211.9 Q313.4,212.9 316.9,209.7 Q312.0,207.5 308.4,211.9 Z" fill="#58b042"/><path d="M308.4,215.2 Q310.8,209.4 307.9,205.1 Q305.6,209.7 308.4,215.2 Z" fill="#58b042"/><path d="M308.4,209.6 Q307.8,203.6 303.5,200.9 Q304.1,205.7 308.4,209.6 Z" fill="#8cd25c"/><path d="M308.4,208.5 Q313.1,204.7 314.2,199.9 Q309.6,202.4 308.4,208.5 Z" fill="#58b042"/><path d="M300.8,222.6 L300.4,205.7" stroke="#368730" stroke-width="1.1"/><path d="M300.8,218.1 Q295.1,216.8 291.3,221.8 Q297.0,221.9 300.8,218.1 Z" fill="#368730"/><path d="M300.8,217.0 Q305.7,220.4 312.0,219.9 Q307.1,215.2 300.8,217.0 Z" fill="#368730"/><path d="M300.8,213.6 Q296.7,209.1 291.3,211.3 Q295.4,214.6 300.8,213.6 Z" fill="#6abd4a"/><path d="M300.8,212.5 Q306.5,213.8 311.3,210.7 Q305.6,208.2 300.8,212.5 Z" fill="#6abd4a"/><path d="M300.8,215.8 Q303.7,210.3 301.4,205.7 Q298.5,210.0 300.8,215.8 Z" fill="#6abd4a"/><path d="M300.8,210.2 Q301.0,203.7 297.1,199.7 Q297.0,205.1 300.8,210.2 Z" fill="#8cd25c"/><path d="M300.8,209.1 Q304.7,206.1 305.0,202.1 Q301.1,203.9 300.8,209.1 Z" fill="#6abd4a"/><path d="M293.2,223.2 L293.7,206.3" stroke="#368730" stroke-width="1.1"/><path d="M293.2,218.7 Q286.7,216.7 281.4,221.2 Q287.9,222.0 293.2,218.7 Z" fill="#368730"/><path d="M293.2,217.5 Q297.5,220.9 303.2,220.1 Q298.9,215.6 293.2,217.5 Z" fill="#368730"/><path d="M293.2,214.2 Q288.9,210.4 284.2,213.4 Q288.5,216.0 293.2,214.2 Z" fill="#5fb645"/><path d="M293.2,213.0 Q297.8,215.5 302.6,213.5 Q298.0,209.9 293.2,213.0 Z" fill="#5fb645"/><path d="M293.2,216.4 Q295.5,210.6 292.6,206.3 Q290.3,210.9 293.2,216.4 Z" fill="#5fb645"/><path d="M293.2,210.8 Q292.5,203.4 288.0,198.9 Q288.7,205.1 293.2,210.8 Z" fill="#82cc56"/><path d="M293.2,209.7 Q297.7,206.4 298.8,201.9 Q294.3,204.0 293.2,209.7 Z" fill="#5fb645"/><path d="M285.6,223.8 L286.0,206.9" stroke="#3a8e34" stroke-width="1.1"/><path d="M285.6,219.3 Q279.5,217.9 275.2,222.8 Q281.3,223.0 285.6,219.3 Z" fill="#3a8e34"/><path d="M285.6,218.1 Q291.0,220.7 296.9,219.1 Q291.5,215.3 285.6,218.1 Z" fill="#3a8e34"/><path d="M285.6,214.8 Q280.9,210.5 275.3,212.9 Q279.9,216.0 285.6,214.8 Z" fill="#58b042"/><path d="M285.6,213.6 Q290.1,215.4 294.1,212.8 Q289.6,209.8 285.6,213.6 Z" fill="#58b042"/><path d="M285.6,217.0 Q288.0,211.2 285.2,206.9 Q282.8,211.5 285.6,217.0 Z" fill="#58b042"/><path d="M285.6,211.4 Q284.6,204.1 279.9,199.9 Q280.9,206.0 285.6,211.4 Z" fill="#8cd25c"/><path d="M285.6,210.3 Q290.4,206.3 291.6,201.2 Q286.8,204.0 285.6,210.3 Z" fill="#58b042"/><path d="M278.0,224.3 L278.3,207.5" stroke="#429638" stroke-width="1.1"/><path d="M278.0,219.8 Q272.1,218.4 267.9,223.3 Q273.8,223.5 278.0,219.8 Z" fill="#429638"/><path d="M278.0,218.7 Q283.6,221.2 289.5,219.4 Q283.9,215.8 278.0,218.7 Z" fill="#429638"/><path d="M278.0,215.3 Q272.9,211.4 267.3,214.3 Q272.4,217.0 278.0,215.3 Z" fill="#58b042"/><path d="M278.0,214.2 Q283.4,216.4 288.8,214.1 Q283.4,210.8 278.0,214.2 Z" fill="#58b042"/><path d="M278.0,217.6 Q280.7,212.0 278.2,207.5 Q275.5,211.9 278.0,217.6 Z" fill="#58b042"/><path d="M278.0,212.0 Q277.8,204.9 273.6,200.6 Q273.8,206.4 278.0,212.0 Z" fill="#8cd25c"/><path d="M278.0,210.8 Q281.6,207.0 281.2,202.7 Q277.7,205.4 278.0,210.8 Z" fill="#58b042"/><path d="M270.4,224.9 L270.2,208.1" stroke="#3a8e34" stroke-width="1.1"/><path d="M270.4,220.4 Q264.7,218.4 260.3,222.9 Q266.0,223.7 270.4,220.4 Z" fill="#3a8e34"/><path d="M270.4,219.3 Q275.8,221.7 281.5,219.9 Q276.1,216.3 270.4,219.3 Z" fill="#3a8e34"/><path d="M270.4,215.9 Q266.4,211.6 261.2,213.9 Q265.2,217.1 270.4,215.9 Z" fill="#58b042"/><path d="M270.4,214.8 Q274.8,216.9 279.0,214.7 Q274.7,211.3 270.4,214.8 Z" fill="#58b042"/><path d="M270.4,218.2 Q273.0,212.5 270.4,208.1 Q267.8,212.5 270.4,218.2 Z" fill="#58b042"/><path d="M270.4,212.6 Q269.6,206.3 265.2,203.4 Q266.0,208.4 270.4,212.6 Z" fill="#82cc56"/><path d="M270.4,211.4 Q275.1,207.6 276.4,202.7 Q271.6,205.3 270.4,211.4 Z" fill="#58b042"/><path d="M262.8,225.5 L262.8,208.6" stroke="#368730" stroke-width="1.1"/><path d="M262.8,221.0 Q257.5,218.8 253.3,223.1 Q258.6,224.1 262.8,221.0 Z" fill="#368730"/><path d="M262.8,219.9 Q267.4,222.9 273.0,221.8 Q268.4,217.6 262.8,219.9 Z" fill="#368730"/><path d="M262.8,216.5 Q259.0,212.9 254.9,216.1 Q258.7,218.5 262.8,216.5 Z" fill="#58b042"/><path d="M262.8,215.4 Q268.1,217.8 273.6,215.9 Q268.3,212.2 262.8,215.4 Z" fill="#58b042"/><path d="M262.8,218.8 Q265.2,213.0 262.3,208.6 Q260.0,213.2 262.8,218.8 Z" fill="#58b042"/><path d="M262.8,213.1 Q262.0,207.2 257.6,204.6 Q258.4,209.4 262.8,213.1 Z" fill="#8cd25c"/><path d="M262.8,212.0 Q267.5,207.5 268.5,202.2 Q263.8,205.4 262.8,212.0 Z" fill="#58b042"/><path d="M255.2,226.1 L255.0,209.2" stroke="#3a8e34" stroke-width="1.1"/><path d="M255.2,221.6 Q249.9,219.4 245.7,223.6 Q251.0,224.6 255.2,221.6 Z" fill="#3a8e34"/><path d="M255.2,220.5 Q259.3,223.2 264.3,221.8 Q260.1,217.9 255.2,220.5 Z" fill="#3a8e34"/><path d="M255.2,217.1 Q249.8,213.6 244.4,217.0 Q249.7,219.2 255.2,217.1 Z" fill="#6abd4a"/><path d="M255.2,216.0 Q260.8,217.9 266.2,215.4 Q260.5,212.3 255.2,216.0 Z" fill="#6abd4a"/><path d="M255.2,219.4 Q257.6,213.6 254.9,209.2 Q252.4,213.8 255.2,219.4 Z" fill="#6abd4a"/><path d="M255.2,213.7 Q253.9,206.4 248.9,202.3 Q250.2,208.4 255.2,213.7 Z" fill="#7ac852"/><path d="M255.2,212.6 Q259.2,209.2 259.6,204.9 Q255.5,207.1 255.2,212.6 Z" fill="#6abd4a"/><path d="M247.6,226.7 L247.2,209.8" stroke="#3a8e34" stroke-width="1.1"/><path d="M247.6,222.2 Q242.4,219.5 238.0,223.5 Q243.2,224.9 247.6,222.2 Z" fill="#3a8e34"/><path d="M247.6,221.1 Q252.1,224.9 258.4,224.9 Q253.9,219.8 247.6,221.1 Z" fill="#3a8e34"/><path d="M247.6,217.7 Q243.1,213.6 237.8,216.3 Q242.3,219.2 247.6,217.7 Z" fill="#6abd4a"/><path d="M247.6,216.6 Q252.8,217.4 256.5,214.0 Q251.2,212.0 247.6,216.6 Z" fill="#6abd4a"/><path d="M247.6,219.9 Q250.0,214.2 247.3,209.8 Q244.8,214.3 247.6,219.9 Z" fill="#6abd4a"/><path d="M247.6,214.3 Q246.4,207.5 241.6,204.1 Q242.8,209.6 247.6,214.3 Z" fill="#7ac852"/><path d="M247.6,213.2 Q252.0,209.2 252.8,204.2 Q248.4,207.1 247.6,213.2 Z" fill="#6abd4a"/><path d="M239.9,227.3 L240.0,210.4" stroke="#368730" stroke-width="1.1"/><path d="M239.9,222.8 Q233.2,221.6 228.3,226.8 Q235.0,226.7 239.9,222.8 Z" fill="#368730"/><path d="M239.9,221.7 Q244.7,225.5 251.1,225.4 Q246.4,220.4 239.9,221.7 Z" fill="#368730"/><path d="M239.9,218.3 Q235.0,213.9 229.1,216.3 Q234.0,219.5 239.9,218.3 Z" fill="#58b042"/><path d="M239.9,217.2 Q243.9,219.3 247.7,217.0 Q243.8,213.7 239.9,217.2 Z" fill="#58b042"/><path d="M239.9,220.5 Q242.3,214.8 239.5,210.4 Q237.1,215.0 239.9,220.5 Z" fill="#58b042"/><path d="M239.9,214.9 Q238.3,208.0 233.2,204.5 Q234.8,210.3 239.9,214.9 Z" fill="#7ac852"/><path d="M239.9,213.8 Q244.6,210.8 245.9,206.4 Q241.3,208.2 239.9,213.8 Z" fill="#58b042"/><path d="M315.2,228.5 L315.3,211.4" stroke="#429638" stroke-width="1.1"/><path d="M315.2,223.9 Q309.5,221.8 305.0,226.2 Q310.7,227.1 315.2,223.9 Z" fill="#429638"/><path d="M315.2,222.8 Q319.7,225.5 324.9,224.0 Q320.4,220.1 315.2,222.8 Z" fill="#429638"/><path d="M315.2,219.4 Q311.7,214.9 306.7,217.1 Q310.3,220.3 315.2,219.4 Z" fill="#6abd4a"/><path d="M315.2,218.2 Q321.2,219.4 326.3,216.2 Q320.3,213.9 315.2,218.2 Z" fill="#6abd4a"/><path d="M315.2,221.6 Q317.4,215.7 314.4,211.4 Q312.2,216.1 315.2,221.6 Z" fill="#6abd4a"/><path d="M315.2,215.9 Q313.5,208.6 308.3,204.8 Q310.0,210.9 315.2,215.9 Z" fill="#82cc56"/><path d="M315.2,214.8 Q319.6,210.3 320.2,205.1 Q315.8,208.4 315.2,214.8 Z" fill="#6abd4a"/><path d="M307.5,229.1 L307.0,212.0" stroke="#429638" stroke-width="1.1"/><path d="M307.5,224.6 Q302.7,222.3 299.1,226.6 Q303.9,227.6 307.5,224.6 Z" fill="#429638"/><path d="M307.5,223.4 Q312.9,226.7 319.3,225.9 Q314.0,221.4 307.5,223.4 Z" fill="#429638"/><path d="M307.5,220.0 Q302.0,216.4 296.3,219.6 Q301.8,222.0 307.5,220.0 Z" fill="#5fb645"/><path d="M307.5,218.9 Q313.0,221.3 318.7,219.4 Q313.3,215.8 307.5,218.9 Z" fill="#5fb645"/><path d="M307.5,222.3 Q309.9,216.4 307.1,212.0 Q304.7,216.7 307.5,222.3 Z" fill="#5fb645"/><path d="M307.5,216.6 Q305.9,210.4 300.9,207.9 Q302.5,212.9 307.5,216.6 Z" fill="#7ac852"/><path d="M307.5,215.4 Q311.9,211.6 312.6,206.9 Q308.2,209.5 307.5,215.4 Z" fill="#5fb645"/><path d="M299.8,229.8 L299.8,212.7" stroke="#3a8e34" stroke-width="1.1"/><path d="M299.8,225.2 Q293.7,222.8 288.4,226.9 Q294.5,228.2 299.8,225.2 Z" fill="#3a8e34"/><path d="M299.8,224.1 Q303.7,226.7 308.3,225.2 Q304.4,221.4 299.8,224.1 Z" fill="#3a8e34"/><path d="M299.8,220.7 Q294.2,217.1 288.5,220.4 Q294.1,222.7 299.8,220.7 Z" fill="#6abd4a"/><path d="M299.8,219.5 Q305.4,220.5 309.6,217.2 Q304.1,215.1 299.8,219.5 Z" fill="#6abd4a"/><path d="M299.8,222.9 Q302.4,217.2 299.8,212.7 Q297.2,217.2 299.8,222.9 Z" fill="#6abd4a"/><path d="M299.8,217.2 Q299.9,210.1 295.9,205.5 Q295.9,211.4 299.8,217.2 Z" fill="#7ac852"/><path d="M299.8,216.1 Q304.5,212.2 305.6,207.2 Q300.9,209.9 299.8,216.1 Z" fill="#6abd4a"/><path d="M292.1,230.4 L292.6,213.3" stroke="#429638" stroke-width="1.1"/><path d="M292.1,225.9 Q286.3,223.2 281.2,227.1 Q286.9,228.6 292.1,225.9 Z" fill="#429638"/><path d="M292.1,224.7 Q296.5,227.3 301.4,225.7 Q297.1,221.9 292.1,224.7 Z" fill="#429638"/><path d="M292.1,221.3 Q288.1,217.8 283.9,221.0 Q287.9,223.4 292.1,221.3 Z" fill="#58b042"/><path d="M292.1,220.2 Q296.1,222.7 300.4,220.8 Q296.5,217.1 292.1,220.2 Z" fill="#58b042"/><path d="M292.1,223.6 Q295.2,218.1 293.0,213.3 Q290.0,217.6 292.1,223.6 Z" fill="#58b042"/><path d="M292.1,217.9 Q292.0,210.6 287.9,205.8 Q288.0,212.0 292.1,217.9 Z" fill="#7ac852"/><path d="M292.1,216.7 Q296.4,213.7 297.2,209.5 Q292.9,211.3 292.1,216.7 Z" fill="#58b042"/><path d="M284.4,231.1 L284.0,214.0" stroke="#429638" stroke-width="1.1"/><path d="M284.4,226.5 Q278.9,225.2 275.4,230.2 Q280.9,230.2 284.4,226.5 Z" fill="#429638"/><path d="M284.4,225.4 Q289.6,228.1 295.3,226.6 Q290.2,222.7 284.4,225.4 Z" fill="#429638"/><path d="M284.4,222.0 Q279.7,217.7 273.9,220.1 Q278.7,223.2 284.4,222.0 Z" fill="#5fb645"/><path d="M284.4,220.8 Q289.8,221.7 293.9,218.4 Q288.5,216.3 284.4,220.8 Z" fill="#5fb645"/><path d="M284.4,224.2 Q287.0,218.5 284.3,214.0 Q281.8,218.5 284.4,224.2 Z" fill="#5fb645"/><path d="M284.4,218.5 Q282.9,212.4 278.1,209.9 Q279.6,214.9 284.4,218.5 Z" fill="#82cc56"/><path d="M284.4,217.4 Q289.3,213.8 290.7,208.9 Q285.9,211.3 284.4,217.4 Z" fill="#5fb645"/><path d="M276.7,231.7 L276.4,214.6" stroke="#3a8e34" stroke-width="1.1"/><path d="M276.7,227.2 Q270.6,224.7 265.3,228.9 Q271.4,230.1 276.7,227.2 Z" fill="#3a8e34"/><path d="M276.7,226.0 Q280.7,228.7 285.5,227.3 Q281.5,223.4 276.7,226.0 Z" fill="#3a8e34"/><path d="M276.7,222.6 Q272.8,218.2 267.7,220.5 Q271.6,223.7 276.7,222.6 Z" fill="#5fb645"/><path d="M276.7,221.5 Q282.7,222.3 287.3,218.8 Q281.4,216.8 276.7,221.5 Z" fill="#5fb645"/><path d="M276.7,224.9 Q279.6,219.3 277.3,214.6 Q274.4,219.0 276.7,224.9 Z" fill="#5fb645"/><path d="M276.7,219.2 Q275.1,212.4 270.0,209.2 Q271.6,214.8 276.7,219.2 Z" fill="#7ac852"/><path d="M276.7,218.0 Q280.7,213.6 280.9,208.6 Q276.9,211.9 276.7,218.0 Z" fill="#5fb645"/><path d="M269.0,232.4 L269.1,215.3" stroke="#368730" stroke-width="1.1"/><path d="M269.0,227.8 Q263.1,226.2 258.9,231.0 Q264.8,231.4 269.0,227.8 Z" fill="#368730"/><path d="M269.0,226.7 Q273.8,230.1 279.9,229.5 Q275.1,224.9 269.0,226.7 Z" fill="#368730"/><path d="M269.0,223.3 Q265.4,219.1 260.8,221.7 Q264.4,224.6 269.0,223.3 Z" fill="#5fb645"/><path d="M269.0,222.1 Q273.3,224.6 278.0,222.7 Q273.7,219.0 269.0,222.1 Z" fill="#5fb645"/><path d="M269.0,225.5 Q271.3,219.6 268.4,215.3 Q266.1,220.0 269.0,225.5 Z" fill="#5fb645"/><path d="M269.0,219.8 Q268.6,213.5 264.4,210.1 Q264.8,215.3 269.0,219.8 Z" fill="#82cc56"/><path d="M269.0,218.7 Q272.4,215.1 271.9,211.2 Q268.5,213.6 269.0,218.7 Z" fill="#5fb645"/><path d="M261.3,233.0 L261.6,215.9" stroke="#368730" stroke-width="1.1"/><path d="M261.3,228.5 Q256.5,225.7 252.2,229.4 Q257.0,231.0 261.3,228.5 Z" fill="#368730"/><path d="M261.3,227.3 Q266.0,230.4 271.7,229.4 Q267.0,225.1 261.3,227.3 Z" fill="#368730"/><path d="M261.3,223.9 Q257.2,220.5 253.0,223.9 Q257.1,226.1 261.3,223.9 Z" fill="#58b042"/><path d="M261.3,222.8 Q266.9,224.5 272.1,221.9 Q266.5,219.0 261.3,222.8 Z" fill="#58b042"/><path d="M261.3,226.2 Q264.3,220.6 262.0,215.9 Q259.1,220.3 261.3,226.2 Z" fill="#58b042"/><path d="M261.3,220.5 Q260.8,214.2 256.5,210.9 Q257.0,216.0 261.3,220.5 Z" fill="#7ac852"/><path d="M261.3,219.3 Q265.1,214.2 264.9,209.0 Q261.1,212.9 261.3,219.3 Z" fill="#58b042"/><path d="M253.6,233.7 L254.1,216.6" stroke="#3a8e34" stroke-width="1.1"/><path d="M253.6,229.1 Q247.7,226.9 242.9,231.2 Q248.8,232.2 253.6,229.1 Z" fill="#3a8e34"/><path d="M253.6,228.0 Q257.9,230.2 262.3,228.3 Q258.0,224.8 253.6,228.0 Z" fill="#3a8e34"/><path d="M253.6,224.6 Q249.5,220.2 244.2,222.5 Q248.3,225.7 253.6,224.6 Z" fill="#58b042"/><path d="M253.6,223.4 Q258.4,224.9 262.4,222.1 Q257.6,219.4 253.6,223.4 Z" fill="#58b042"/><path d="M253.6,226.8 Q255.8,220.9 252.8,216.6 Q250.6,221.3 253.6,226.8 Z" fill="#58b042"/><path d="M253.6,221.1 Q253.6,215.3 249.7,212.3 Q249.8,217.0 253.6,221.1 Z" fill="#7ac852"/><path d="M253.6,220.0 Q257.1,215.8 256.7,211.4 Q253.2,214.4 253.6,220.0 Z" fill="#58b042"/><path d="M245.9,234.3 L245.7,217.2" stroke="#368730" stroke-width="1.1"/><path d="M245.9,229.8 Q239.7,227.2 234.1,231.2 Q240.3,232.6 245.9,229.8 Z" fill="#368730"/><path d="M245.9,228.6 Q251.2,231.2 257.0,229.6 Q251.7,225.8 245.9,228.6 Z" fill="#368730"/><path d="M245.9,225.2 Q241.4,222.1 237.2,225.8 Q241.8,227.7 245.9,225.2 Z" fill="#58b042"/><path d="M245.9,224.1 Q251.2,225.4 255.5,222.5 Q250.3,219.9 245.9,224.1 Z" fill="#58b042"/><path d="M245.9,227.5 Q248.5,221.7 245.9,217.2 Q243.3,221.8 245.9,227.5 Z" fill="#58b042"/><path d="M245.9,221.8 Q245.4,215.6 241.1,212.5 Q241.7,217.5 245.9,221.8 Z" fill="#7ac852"/><path d="M245.9,220.6 Q250.2,217.1 250.9,212.5 Q246.6,214.9 245.9,220.6 Z" fill="#58b042"/><path d="M322.0,235.0 L321.9,217.6" stroke="#3a8e34" stroke-width="1.1"/><path d="M322.0,230.4 Q316.3,228.7 312.2,233.4 Q317.9,233.9 322.0,230.4 Z" fill="#3a8e34"/><path d="M322.0,229.2 Q327.3,231.7 332.9,229.9 Q327.6,226.3 322.0,229.2 Z" fill="#3a8e34"/><path d="M322.0,225.7 Q317.5,221.7 312.2,224.5 Q316.8,227.3 322.0,225.7 Z" fill="#58b042"/><path d="M322.0,224.6 Q328.4,225.4 333.5,221.9 Q327.1,219.9 322.0,224.6 Z" fill="#58b042"/><path d="M322.0,228.0 Q324.4,222.1 321.5,217.6 Q319.2,222.4 322.0,228.0 Z" fill="#58b042"/><path d="M322.0,222.2 Q321.0,215.8 316.4,212.6 Q317.4,217.9 322.0,222.2 Z" fill="#82cc56"/><path d="M322.0,221.1 Q325.9,216.9 325.9,212.2 Q322.0,215.2 322.0,221.1 Z" fill="#58b042"/><path d="M314.2,235.7 L314.0,218.3" stroke="#3a8e34" stroke-width="1.1"/><path d="M314.2,231.1 Q307.8,228.9 302.3,233.3 Q308.7,234.2 314.2,231.1 Z" fill="#3a8e34"/><path d="M314.2,229.9 Q318.9,232.3 323.9,230.4 Q319.2,226.9 314.2,229.9 Z" fill="#3a8e34"/><path d="M314.2,226.4 Q309.2,223.4 304.5,227.1 Q309.6,229.0 314.2,226.4 Z" fill="#58b042"/><path d="M314.2,225.3 Q320.4,226.7 325.8,223.7 Q319.6,221.1 314.2,225.3 Z" fill="#58b042"/><path d="M314.2,228.8 Q317.2,223.1 315.0,218.3 Q312.0,222.7 314.2,228.8 Z" fill="#58b042"/><path d="M314.2,223.0 Q314.2,215.7 310.3,211.0 Q310.3,217.0 314.2,223.0 Z" fill="#82cc56"/><path d="M314.2,221.8 Q317.7,218.0 317.3,213.9 Q313.8,216.5 314.2,221.8 Z" fill="#58b042"/><path d="M306.4,236.4 L306.5,219.0" stroke="#429638" stroke-width="1.1"/><path d="M306.4,231.8 Q301.1,229.3 296.5,233.3 Q301.9,234.6 306.4,231.8 Z" fill="#429638"/><path d="M306.4,230.6 Q310.5,233.5 315.4,232.2 Q311.4,228.2 306.4,230.6 Z" fill="#429638"/><path d="M306.4,227.1 Q301.5,223.9 296.7,227.4 Q301.6,229.5 306.4,227.1 Z" fill="#6abd4a"/><path d="M306.4,226.0 Q311.8,226.9 315.8,223.6 Q310.4,221.5 306.4,226.0 Z" fill="#6abd4a"/><path d="M306.4,229.5 Q309.5,223.9 307.3,219.0 Q304.3,223.4 306.4,229.5 Z" fill="#6abd4a"/><path d="M306.4,223.7 Q305.9,216.8 301.6,212.9 Q302.1,218.6 306.4,223.7 Z" fill="#82cc56"/><path d="M306.4,222.5 Q311.0,218.4 311.9,213.4 Q307.4,216.3 306.4,222.5 Z" fill="#6abd4a"/><path d="M298.7,237.1 L299.0,219.8" stroke="#429638" stroke-width="1.1"/><path d="M298.7,232.5 Q291.8,230.9 286.4,235.7 Q293.2,236.1 298.7,232.5 Z" fill="#429638"/><path d="M298.7,231.3 Q304.3,233.8 310.3,232.0 Q304.6,228.4 298.7,231.3 Z" fill="#429638"/><path d="M298.7,227.9 Q294.7,224.3 290.5,227.5 Q294.5,229.9 298.7,227.9 Z" fill="#6abd4a"/><path d="M298.7,226.7 Q304.7,227.9 309.9,224.8 Q303.8,222.4 298.7,226.7 Z" fill="#6abd4a"/><path d="M298.7,230.2 Q301.1,224.3 298.4,219.8 Q295.9,224.4 298.7,230.2 Z" fill="#6abd4a"/><path d="M298.7,224.4 Q297.4,218.3 292.7,215.8 Q293.9,220.7 298.7,224.4 Z" fill="#82cc56"/><path d="M298.7,223.2 Q303.0,219.0 303.6,213.9 Q299.3,217.0 298.7,223.2 Z" fill="#6abd4a"/><path d="M290.9,237.8 L290.6,220.5" stroke="#429638" stroke-width="1.1"/><path d="M290.9,233.2 Q284.2,231.4 278.8,236.1 Q285.5,236.7 290.9,233.2 Z" fill="#429638"/><path d="M290.9,232.0 Q296.1,234.5 301.8,232.8 Q296.5,229.1 290.9,232.0 Z" fill="#429638"/><path d="M290.9,228.6 Q287.4,224.5 282.9,227.2 Q286.4,230.0 290.9,228.6 Z" fill="#6abd4a"/><path d="M290.9,227.4 Q295.4,229.5 299.9,227.3 Q295.3,223.9 290.9,227.4 Z" fill="#6abd4a"/><path d="M290.9,230.9 Q293.7,225.2 291.4,220.5 Q288.5,224.9 290.9,230.9 Z" fill="#6abd4a"/><path d="M290.9,225.1 Q289.8,217.5 285.0,212.9 Q286.1,219.3 290.9,225.1 Z" fill="#82cc56"/><path d="M290.9,223.9 Q295.5,219.8 296.5,214.8 Q291.9,217.7 290.9,223.9 Z" fill="#6abd4a"/><path d="M283.1,238.5 L283.3,221.2" stroke="#368730" stroke-width="1.1"/><path d="M283.1,233.9 Q276.3,232.3 271.0,237.1 Q277.7,237.5 283.1,233.9 Z" fill="#368730"/><path d="M283.1,232.8 Q287.4,236.3 293.3,235.8 Q289.0,231.1 283.1,232.8 Z" fill="#368730"/><path d="M283.1,229.3 Q279.1,225.0 273.9,227.3 Q277.9,230.4 283.1,229.3 Z" fill="#58b042"/><path d="M283.1,228.1 Q287.0,230.5 291.1,228.5 Q287.2,224.9 283.1,228.1 Z" fill="#58b042"/><path d="M283.1,231.6 Q285.3,225.6 282.4,221.2 Q280.1,226.0 283.1,231.6 Z" fill="#58b042"/><path d="M283.1,225.8 Q282.1,218.7 277.4,214.8 Q278.4,220.7 283.1,225.8 Z" fill="#82cc56"/><path d="M283.1,224.6 Q286.9,221.0 287.0,216.7 Q283.1,219.2 283.1,224.6 Z" fill="#58b042"/><path d="M275.3,239.3 L275.4,221.9" stroke="#368730" stroke-width="1.1"/><path d="M275.3,234.6 Q269.1,232.7 264.1,237.2 Q270.3,237.9 275.3,234.6 Z" fill="#368730"/><path d="M275.3,233.5 Q280.1,236.0 285.3,234.3 Q280.5,230.6 275.3,233.5 Z" fill="#368730"/><path d="M275.3,230.0 Q270.3,225.5 264.3,227.8 Q269.2,231.0 275.3,230.0 Z" fill="#6abd4a"/><path d="M275.3,228.8 Q281.2,230.4 286.5,227.7 Q280.6,224.9 275.3,228.8 Z" fill="#6abd4a"/><path d="M275.3,232.3 Q277.6,226.4 274.8,221.9 Q272.4,226.6 275.3,232.3 Z" fill="#6abd4a"/><path d="M275.3,226.5 Q275.2,220.7 271.2,217.9 Q271.4,222.5 275.3,226.5 Z" fill="#7ac852"/><path d="M275.3,225.4 Q279.4,220.5 279.7,215.2 Q275.6,218.8 275.3,225.4 Z" fill="#6abd4a"/><path d="M267.5,240.0 L267.2,222.6" stroke="#3a8e34" stroke-width="1.1"/><path d="M267.5,235.3 Q262.0,232.9 257.3,237.0 Q262.8,238.2 267.5,235.3 Z" fill="#3a8e34"/><path d="M267.5,234.2 Q271.6,237.8 277.4,237.4 Q273.3,232.6 267.5,234.2 Z" fill="#3a8e34"/><path d="M267.5,230.7 Q262.8,225.9 256.7,227.8 Q261.3,231.3 267.5,230.7 Z" fill="#5fb645"/><path d="M267.5,229.5 Q273.4,230.9 278.6,228.0 Q272.6,225.4 267.5,229.5 Z" fill="#5fb645"/><path d="M267.5,233.0 Q270.3,227.3 267.9,222.6 Q265.1,227.1 267.5,233.0 Z" fill="#5fb645"/><path d="M267.5,227.2 Q266.0,219.9 260.9,216.0 Q262.4,222.1 267.5,227.2 Z" fill="#82cc56"/><path d="M267.5,226.1 Q272.1,222.2 273.1,217.3 Q268.5,219.9 267.5,226.1 Z" fill="#5fb645"/><path d="M259.7,240.7 L259.9,223.3" stroke="#368730" stroke-width="1.1"/><path d="M259.7,236.1 Q253.7,234.6 249.4,239.4 Q255.4,239.7 259.7,236.1 Z" fill="#368730"/><path d="M259.7,234.9 Q265.4,237.3 271.4,235.5 Q265.7,231.9 259.7,234.9 Z" fill="#368730"/><path d="M259.7,231.4 Q256.1,227.3 251.4,229.8 Q255.0,232.8 259.7,231.4 Z" fill="#6abd4a"/><path d="M259.7,230.3 Q265.2,231.7 270.0,228.8 Q264.5,226.2 259.7,230.3 Z" fill="#6abd4a"/><path d="M259.7,233.7 Q262.1,227.8 259.4,223.3 Q256.9,228.0 259.7,233.7 Z" fill="#6abd4a"/><path d="M259.7,227.9 Q259.4,222.1 255.3,219.3 Q255.6,223.9 259.7,227.9 Z" fill="#82cc56"/><path d="M259.7,226.8 Q263.3,222.4 263.0,217.7 Q259.3,220.9 259.7,226.8 Z" fill="#6abd4a"/><path d="M251.9,241.4 L251.4,224.0" stroke="#429638" stroke-width="1.1"/><path d="M251.9,236.8 Q245.6,235.6 241.1,240.7 Q247.4,240.7 251.9,236.8 Z" fill="#429638"/><path d="M251.9,235.6 Q257.0,239.3 263.5,239.0 Q258.5,234.1 251.9,235.6 Z" fill="#429638"/><path d="M251.9,232.1 Q248.6,227.8 243.9,230.0 Q247.2,233.2 251.9,232.1 Z" fill="#58b042"/><path d="M251.9,231.0 Q256.8,231.8 260.2,228.5 Q255.3,226.5 251.9,231.0 Z" fill="#58b042"/><path d="M251.9,234.4 Q254.5,228.6 252.0,224.0 Q249.3,228.6 251.9,234.4 Z" fill="#58b042"/><path d="M251.9,228.7 Q251.3,222.6 247.0,219.9 Q247.6,224.7 251.9,228.7 Z" fill="#7ac852"/><path d="M251.9,227.5 Q256.4,223.9 257.4,219.2 Q252.9,221.6 251.9,227.5 Z" fill="#58b042"/><path d="M328.8,241.5 L329.1,223.9" stroke="#429638" stroke-width="1.1"/><path d="M328.8,236.8 Q322.4,234.0 316.4,237.7 Q322.8,239.4 328.8,236.8 Z" fill="#429638"/><path d="M328.8,235.6 Q334.1,237.9 339.6,236.0 Q334.3,232.5 328.8,235.6 Z" fill="#429638"/><path d="M328.8,232.1 Q324.1,229.0 319.7,232.7 Q324.5,234.6 328.8,232.1 Z" fill="#5fb645"/><path d="M328.8,230.9 Q334.3,232.6 339.2,229.8 Q333.7,227.0 328.8,230.9 Z" fill="#5fb645"/><path d="M328.8,234.4 Q331.4,228.5 328.7,223.9 Q326.2,228.6 328.8,234.4 Z" fill="#5fb645"/><path d="M328.8,228.6 Q328.4,221.2 324.2,216.5 Q324.5,222.7 328.8,228.6 Z" fill="#8cd25c"/><path d="M328.8,227.4 Q332.6,224.2 332.8,220.1 Q328.9,222.2 328.8,227.4 Z" fill="#5fb645"/><path d="M320.9,242.3 L320.7,224.6" stroke="#3a8e34" stroke-width="1.1"/><path d="M320.9,237.6 Q315.7,234.5 310.7,238.1 Q316.0,239.9 320.9,237.6 Z" fill="#3a8e34"/><path d="M320.9,236.4 Q325.3,239.4 330.8,238.4 Q326.4,234.1 320.9,236.4 Z" fill="#3a8e34"/><path d="M320.9,232.9 Q317.1,229.2 312.8,232.2 Q316.6,234.7 320.9,232.9 Z" fill="#6abd4a"/><path d="M320.9,231.7 Q326.9,233.2 332.2,230.4 Q326.3,227.7 320.9,231.7 Z" fill="#6abd4a"/><path d="M320.9,235.2 Q323.3,229.2 320.4,224.6 Q318.1,229.4 320.9,235.2 Z" fill="#6abd4a"/><path d="M320.9,229.3 Q319.3,223.1 314.3,220.5 Q316.0,225.6 320.9,229.3 Z" fill="#7ac852"/><path d="M320.9,228.2 Q325.5,223.8 326.4,218.5 Q321.8,221.7 320.9,228.2 Z" fill="#6abd4a"/><path d="M313.1,243.0 L313.4,225.4" stroke="#3a8e34" stroke-width="1.1"/><path d="M313.1,238.3 Q307.8,235.4 303.0,239.1 Q308.2,240.8 313.1,238.3 Z" fill="#3a8e34"/><path d="M313.1,237.2 Q317.3,240.1 322.6,239.0 Q318.3,234.8 313.1,237.2 Z" fill="#3a8e34"/><path d="M313.1,233.6 Q308.2,229.7 302.7,232.4 Q307.5,235.2 313.1,233.6 Z" fill="#5fb645"/><path d="M313.1,232.5 Q318.4,234.5 323.7,232.1 Q318.3,228.9 313.1,232.5 Z" fill="#5fb645"/><path d="M313.1,236.0 Q315.5,230.0 312.8,225.4 Q310.3,230.2 313.1,236.0 Z" fill="#5fb645"/><path d="M313.1,230.1 Q311.9,222.4 307.0,217.7 Q308.1,224.2 313.1,230.1 Z" fill="#7ac852"/><path d="M313.1,228.9 Q316.9,225.5 317.0,221.3 Q313.1,223.6 313.1,228.9 Z" fill="#5fb645"/><path d="M305.2,243.8 L305.6,226.2" stroke="#3a8e34" stroke-width="1.1"/><path d="M305.2,239.1 Q298.7,237.7 293.9,242.7 Q300.3,242.9 305.2,239.1 Z" fill="#3a8e34"/><path d="M305.2,237.9 Q309.7,240.6 314.7,239.0 Q310.3,235.2 305.2,237.9 Z" fill="#3a8e34"/><path d="M305.2,234.4 Q301.3,230.1 296.3,232.5 Q300.1,235.6 305.2,234.4 Z" fill="#5fb645"/><path d="M305.2,233.2 Q311.2,234.8 316.7,232.0 Q310.7,229.3 305.2,233.2 Z" fill="#5fb645"/><path d="M305.2,236.8 Q307.5,230.7 304.6,226.2 Q302.3,231.0 305.2,236.8 Z" fill="#5fb645"/><path d="M305.2,230.9 Q303.6,223.7 298.5,220.0 Q300.0,225.9 305.2,230.9 Z" fill="#7ac852"/><path d="M305.2,229.7 Q309.5,226.7 310.5,222.5 Q306.1,224.2 305.2,229.7 Z" fill="#5fb645"/><path d="M297.3,244.6 L297.0,227.0" stroke="#3a8e34" stroke-width="1.1"/><path d="M297.3,239.9 Q292.6,237.1 288.5,240.9 Q293.2,242.5 297.3,239.9 Z" fill="#3a8e34"/><path d="M297.3,238.7 Q301.6,241.0 306.2,239.2 Q301.9,235.6 297.3,238.7 Z" fill="#3a8e34"/><path d="M297.3,235.2 Q292.1,231.9 287.0,235.5 Q292.2,237.5 297.3,235.2 Z" fill="#6abd4a"/><path d="M297.3,234.0 Q303.0,236.1 308.6,233.7 Q302.9,230.5 297.3,234.0 Z" fill="#6abd4a"/><path d="M297.3,237.5 Q300.3,231.9 298.2,227.0 Q295.2,231.4 297.3,237.5 Z" fill="#6abd4a"/><path d="M297.3,231.7 Q297.3,224.7 293.3,220.4 Q293.3,226.2 297.3,231.7 Z" fill="#82cc56"/><path d="M297.3,230.5 Q300.9,227.1 300.8,223.2 Q297.2,225.3 297.3,230.5 Z" fill="#6abd4a"/><path d="M289.4,245.4 L289.2,227.7" stroke="#368730" stroke-width="1.1"/><path d="M289.4,240.7 Q283.6,239.3 279.7,244.3 Q285.5,244.4 289.4,240.7 Z" fill="#368730"/><path d="M289.4,239.5 Q295.2,242.5 301.8,241.4 Q296.0,237.2 289.4,239.5 Z" fill="#368730"/><path d="M289.4,236.0 Q284.4,231.3 278.1,233.2 Q283.1,236.7 289.4,236.0 Z" fill="#6abd4a"/><path d="M289.4,234.8 Q294.0,236.2 297.7,233.3 Q293.1,230.7 289.4,234.8 Z" fill="#6abd4a"/><path d="M289.4,238.3 Q292.4,232.6 290.1,227.7 Q287.2,232.2 289.4,238.3 Z" fill="#6abd4a"/><path d="M289.4,232.4 Q288.5,226.0 284.0,222.8 Q284.9,228.1 289.4,232.4 Z" fill="#82cc56"/><path d="M289.4,231.3 Q293.4,227.7 293.7,223.3 Q289.7,225.7 289.4,231.3 Z" fill="#6abd4a"/><path d="M281.5,246.1 L281.1,228.5" stroke="#429638" stroke-width="1.1"/><path d="M281.5,241.4 Q275.7,239.1 270.9,243.3 Q276.7,244.4 281.5,241.4 Z" fill="#429638"/><path d="M281.5,240.3 Q287.4,242.8 293.7,241.2 Q287.8,237.4 281.5,240.3 Z" fill="#429638"/><path d="M281.5,236.7 Q276.3,233.5 271.2,237.0 Q276.4,239.1 281.5,236.7 Z" fill="#6abd4a"/><path d="M281.5,235.6 Q286.1,237.0 289.6,234.0 Q285.1,231.4 281.5,235.6 Z" fill="#6abd4a"/><path d="M281.5,239.1 Q284.4,233.3 282.1,228.5 Q279.2,233.0 281.5,239.1 Z" fill="#6abd4a"/><path d="M281.5,233.2 Q281.2,225.7 276.9,220.9 Q277.2,227.2 281.5,233.2 Z" fill="#82cc56"/><path d="M281.5,232.0 Q285.0,226.7 284.5,221.5 Q281.0,225.6 281.5,232.0 Z" fill="#6abd4a"/><path d="M273.7,246.9 L273.9,229.3" stroke="#3a8e34" stroke-width="1.1"/><path d="M273.7,242.2 Q268.6,239.8 264.6,243.9 Q269.6,245.1 273.7,242.2 Z" fill="#3a8e34"/><path d="M273.7,241.0 Q277.5,244.9 283.4,244.9 Q279.5,239.8 273.7,241.0 Z" fill="#3a8e34"/><path d="M273.7,237.5 Q269.5,233.1 264.2,235.4 Q268.3,238.6 273.7,237.5 Z" fill="#6abd4a"/><path d="M273.7,236.3 Q279.5,237.6 284.3,234.5 Q278.5,232.0 273.7,236.3 Z" fill="#6abd4a"/><path d="M273.7,239.9 Q276.0,233.9 273.2,229.3 Q270.8,234.1 273.7,239.9 Z" fill="#6abd4a"/><path d="M273.7,234.0 Q271.6,227.3 266.1,224.4 Q268.2,229.9 273.7,234.0 Z" fill="#82cc56"/><path d="M273.7,232.8 Q278.5,229.2 279.9,224.4 Q275.1,226.7 273.7,232.8 Z" fill="#6abd4a"/><path d="M265.8,247.7 L265.4,230.1" stroke="#3a8e34" stroke-width="1.1"/><path d="M265.8,243.0 Q260.3,240.9 256.0,245.2 Q261.5,246.1 265.8,243.0 Z" fill="#3a8e34"/><path d="M265.8,241.8 Q270.9,245.4 277.4,245.0 Q272.3,240.2 265.8,241.8 Z" fill="#3a8e34"/><path d="M265.8,238.3 Q261.6,234.9 257.5,238.3 Q261.6,240.5 265.8,238.3 Z" fill="#5fb645"/><path d="M265.8,237.1 Q270.4,238.7 274.3,235.9 Q269.6,233.1 265.8,237.1 Z" fill="#5fb645"/><path d="M265.8,240.6 Q267.9,234.5 264.8,230.1 Q262.7,235.0 265.8,240.6 Z" fill="#5fb645"/><path d="M265.8,234.8 Q265.7,227.8 261.8,223.4 Q261.8,229.2 265.8,234.8 Z" fill="#82cc56"/><path d="M265.8,233.6 Q270.3,228.8 271.2,223.3 Q266.6,226.9 265.8,233.6 Z" fill="#5fb645"/><path d="M335.6,248.0 L335.6,230.1" stroke="#3a8e34" stroke-width="1.1"/><path d="M335.6,243.2 Q330.0,241.4 326.0,246.0 Q331.5,246.6 335.6,243.2 Z" fill="#3a8e34"/><path d="M335.6,242.0 Q340.6,245.0 346.4,243.8 Q341.4,239.6 335.6,242.0 Z" fill="#3a8e34"/><path d="M335.6,238.5 Q330.3,234.3 324.3,236.9 Q329.6,239.9 335.6,238.5 Z" fill="#6abd4a"/><path d="M335.6,237.3 Q341.2,238.8 346.2,236.0 Q340.6,233.2 335.6,237.3 Z" fill="#6abd4a"/><path d="M335.6,240.8 Q338.2,234.9 335.7,230.1 Q333.0,234.9 335.6,240.8 Z" fill="#6abd4a"/><path d="M335.6,234.9 Q333.9,227.6 328.6,223.9 Q330.3,229.9 335.6,234.9 Z" fill="#7ac852"/><path d="M335.6,233.7 Q339.2,228.4 338.9,223.0 Q335.2,227.1 335.6,233.7 Z" fill="#6abd4a"/><path d="M257.9,248.5 L257.5,230.8" stroke="#368730" stroke-width="1.1"/><path d="M257.9,243.8 Q251.8,242.1 247.3,246.9 Q253.4,247.3 257.9,243.8 Z" fill="#368730"/><path d="M257.9,242.6 Q262.8,245.2 268.3,243.7 Q263.4,239.8 257.9,242.6 Z" fill="#368730"/><path d="M257.9,239.1 Q253.0,235.3 247.7,238.3 Q252.6,240.9 257.9,239.1 Z" fill="#5fb645"/><path d="M257.9,237.9 Q263.2,240.0 268.4,237.6 Q263.1,234.4 257.9,237.9 Z" fill="#5fb645"/><path d="M257.9,241.4 Q260.8,235.7 258.5,230.8 Q255.6,235.4 257.9,241.4 Z" fill="#5fb645"/><path d="M257.9,235.5 Q257.3,228.1 252.9,223.5 Q253.4,229.7 257.9,235.5 Z" fill="#82cc56"/><path d="M257.9,234.4 Q262.7,230.0 263.9,224.6 Q259.1,227.8 257.9,234.4 Z" fill="#5fb645"/><path d="M327.6,248.8 L327.4,230.9" stroke="#368730" stroke-width="1.1"/><path d="M327.6,244.1 Q321.3,241.9 316.0,246.2 Q322.3,247.2 327.6,244.1 Z" fill="#368730"/><path d="M327.6,242.9 Q332.1,245.5 337.2,244.0 Q332.7,240.1 327.6,242.9 Z" fill="#368730"/><path d="M327.6,239.3 Q322.1,236.1 316.8,239.6 Q322.3,241.7 327.6,239.3 Z" fill="#6abd4a"/><path d="M327.6,238.1 Q332.9,238.7 336.5,235.2 Q331.2,233.4 327.6,238.1 Z" fill="#6abd4a"/><path d="M327.6,241.7 Q330.0,235.6 327.2,230.9 Q324.8,235.8 327.6,241.7 Z" fill="#6abd4a"/><path d="M327.6,235.7 Q326.1,228.7 320.9,225.1 Q322.5,230.9 327.6,235.7 Z" fill="#7ac852"/><path d="M327.6,234.5 Q332.2,229.6 333.0,223.9 Q328.4,227.7 327.6,234.5 Z" fill="#6abd4a"/><path d="M319.7,249.7 L319.2,231.8" stroke="#429638" stroke-width="1.1"/><path d="M319.7,244.9 Q314.6,242.3 310.4,246.2 Q315.4,247.6 319.7,244.9 Z" fill="#429638"/><path d="M319.7,243.7 Q324.5,246.6 330.2,245.4 Q325.3,241.3 319.7,243.7 Z" fill="#429638"/><path d="M319.7,240.1 Q316.1,235.7 311.1,237.9 Q314.7,241.1 319.7,240.1 Z" fill="#5fb645"/><path d="M319.7,238.9 Q324.1,240.7 328.0,238.1 Q323.5,235.1 319.7,238.9 Z" fill="#5fb645"/><path d="M319.7,242.5 Q322.6,236.7 320.3,231.8 Q317.4,236.4 319.7,242.5 Z" fill="#5fb645"/><path d="M319.7,236.5 Q318.1,228.8 312.8,224.2 Q314.4,230.8 319.7,236.5 Z" fill="#82cc56"/><path d="M319.7,235.4 Q324.0,230.5 324.5,225.1 Q320.2,228.7 319.7,235.4 Z" fill="#5fb645"/><path d="M311.7,250.5 L312.1,232.6" stroke="#368730" stroke-width="1.1"/><path d="M311.7,245.7 Q305.0,243.9 299.5,248.5 Q306.2,249.1 311.7,245.7 Z" fill="#368730"/><path d="M311.7,244.5 Q317.0,247.2 322.9,245.6 Q317.5,241.8 311.7,244.5 Z" fill="#368730"/><path d="M311.7,241.0 Q307.1,236.4 301.2,238.4 Q305.8,241.8 311.7,241.0 Z" fill="#6abd4a"/><path d="M311.7,239.8 Q316.8,240.8 320.6,237.6 Q315.5,235.4 311.7,239.8 Z" fill="#6abd4a"/><path d="M311.7,243.3 Q314.4,237.4 311.9,232.6 Q309.2,237.3 311.7,243.3 Z" fill="#6abd4a"/><path d="M311.7,237.4 Q311.0,230.0 306.5,225.5 Q307.2,231.7 311.7,237.4 Z" fill="#8cd25c"/><path d="M311.7,236.2 Q315.2,231.3 314.6,226.5 Q311.1,230.1 311.7,236.2 Z" fill="#6abd4a"/><path d="M303.7,251.3 L303.8,233.5" stroke="#368730" stroke-width="1.1"/><path d="M303.7,246.6 Q297.4,243.6 291.4,247.2 Q297.7,249.0 303.7,246.6 Z" fill="#368730"/><path d="M303.7,245.4 Q308.6,248.5 314.4,247.5 Q309.6,243.2 303.7,245.4 Z" fill="#368730"/><path d="M303.7,241.8 Q298.6,238.4 293.4,241.7 Q298.5,244.0 303.7,241.8 Z" fill="#6abd4a"/><path d="M303.7,240.6 Q309.7,241.5 314.4,238.1 Q308.4,236.0 303.7,240.6 Z" fill="#6abd4a"/><path d="M303.7,244.2 Q306.4,238.2 303.8,233.5 Q301.2,238.2 303.7,244.2 Z" fill="#6abd4a"/><path d="M303.7,238.2 Q303.1,231.2 298.6,227.1 Q299.2,232.9 303.7,238.2 Z" fill="#82cc56"/><path d="M303.7,237.0 Q307.5,233.8 307.6,229.8 Q303.8,231.8 303.7,237.0 Z" fill="#6abd4a"/><path d="M295.8,252.2 L296.2,234.3" stroke="#368730" stroke-width="1.1"/><path d="M295.8,247.4 Q289.4,245.5 284.3,250.0 Q290.6,250.7 295.8,247.4 Z" fill="#368730"/><path d="M295.8,246.2 Q300.4,249.2 305.9,248.0 Q301.3,243.9 295.8,246.2 Z" fill="#368730"/><path d="M295.8,242.6 Q291.2,239.6 287.1,243.3 Q291.7,245.2 295.8,242.6 Z" fill="#6abd4a"/><path d="M295.8,241.4 Q301.2,242.4 305.2,239.1 Q299.8,236.9 295.8,241.4 Z" fill="#6abd4a"/><path d="M295.8,245.0 Q298.6,239.2 296.2,234.3 Q293.4,238.9 295.8,245.0 Z" fill="#6abd4a"/><path d="M295.8,239.1 Q294.2,231.1 288.9,226.4 Q290.5,233.2 295.8,239.1 Z" fill="#7ac852"/><path d="M295.8,237.9 Q300.6,233.8 302.0,228.5 Q297.2,231.4 295.8,237.9 Z" fill="#6abd4a"/><path d="M287.8,253.0 L288.2,235.1" stroke="#3a8e34" stroke-width="1.1"/><path d="M287.8,248.2 Q282.1,245.5 276.9,249.3 Q282.6,250.9 287.8,248.2 Z" fill="#3a8e34"/><path d="M287.8,247.0 Q291.5,250.2 296.7,249.4 Q292.9,245.0 287.8,247.0 Z" fill="#3a8e34"/><path d="M287.8,243.5 Q282.9,240.3 278.3,243.8 Q283.2,245.8 287.8,243.5 Z" fill="#6abd4a"/><path d="M287.8,242.3 Q292.2,244.1 296.2,241.5 Q291.8,238.5 287.8,242.3 Z" fill="#6abd4a"/><path d="M287.8,245.8 Q290.3,239.8 287.5,235.1 Q285.1,239.9 287.8,245.8 Z" fill="#6abd4a"/><path d="M287.8,239.9 Q286.8,232.4 282.1,227.8 Q283.0,234.1 287.8,239.9 Z" fill="#8cd25c"/><path d="M287.8,238.7 Q291.7,234.5 291.7,229.7 Q287.8,232.8 287.8,238.7 Z" fill="#6abd4a"/><path d="M279.8,253.8 L279.8,236.0" stroke="#3a8e34" stroke-width="1.1"/><path d="M279.8,249.1 Q274.0,248.1 270.2,253.2 Q276.1,253.0 279.8,249.1 Z" fill="#3a8e34"/><path d="M279.8,247.9 Q284.4,250.3 289.4,248.6 Q284.8,244.9 279.8,247.9 Z" fill="#3a8e34"/><path d="M279.8,244.3 Q275.4,241.2 271.5,244.9 Q275.9,246.8 279.8,244.3 Z" fill="#5fb645"/><path d="M279.8,243.1 Q285.6,243.8 289.8,240.2 Q284.0,238.4 279.8,243.1 Z" fill="#5fb645"/><path d="M279.8,246.7 Q282.8,240.9 280.6,236.0 Q277.6,240.5 279.8,246.7 Z" fill="#5fb645"/><path d="M279.8,240.7 Q278.5,234.4 273.7,231.5 Q275.0,236.7 279.8,240.7 Z" fill="#7ac852"/><path d="M279.8,239.5 Q284.2,236.2 285.0,231.7 Q280.7,233.9 279.8,239.5 Z" fill="#5fb645"/><path d="M342.4,254.5 L342.5,236.4" stroke="#3a8e34" stroke-width="1.1"/><path d="M342.4,249.6 Q336.9,247.0 332.0,250.9 Q337.5,252.4 342.4,249.6 Z" fill="#3a8e34"/><path d="M342.4,248.4 Q347.2,251.7 353.2,250.9 Q348.4,246.4 342.4,248.4 Z" fill="#3a8e34"/><path d="M342.4,244.8 Q336.3,241.7 330.5,245.3 Q336.5,247.3 342.4,244.8 Z" fill="#58b042"/><path d="M342.4,243.6 Q347.3,244.9 351.2,241.9 Q346.3,239.4 342.4,243.6 Z" fill="#58b042"/><path d="M342.4,247.2 Q344.6,241.0 341.7,236.4 Q339.5,241.4 342.4,247.2 Z" fill="#58b042"/><path d="M342.4,241.2 Q342.3,235.0 338.4,231.5 Q338.5,236.6 342.4,241.2 Z" fill="#82cc56"/><path d="M342.4,240.0 Q346.1,236.4 346.0,232.3 Q342.3,234.6 342.4,240.0 Z" fill="#58b042"/><path d="M271.8,254.7 L272.2,236.8" stroke="#368730" stroke-width="1.1"/><path d="M271.8,249.9 Q265.2,248.1 259.7,252.7 Q266.3,253.3 271.8,249.9 Z" fill="#368730"/><path d="M271.8,248.7 Q276.7,252.1 282.8,251.3 Q277.9,246.8 271.8,248.7 Z" fill="#368730"/><path d="M271.8,245.1 Q266.9,241.0 261.1,243.6 Q266.1,246.6 271.8,245.1 Z" fill="#5fb645"/><path d="M271.8,243.9 Q277.4,245.4 282.2,242.5 Q276.6,239.8 271.8,243.9 Z" fill="#5fb645"/><path d="M271.8,247.5 Q274.6,241.6 272.1,236.8 Q269.4,241.5 271.8,247.5 Z" fill="#5fb645"/><path d="M271.8,241.6 Q270.7,234.5 265.9,230.6 Q267.0,236.5 271.8,241.6 Z" fill="#8cd25c"/><path d="M271.8,240.4 Q275.3,236.1 274.8,231.8 Q271.3,234.8 271.8,240.4 Z" fill="#5fb645"/><path d="M334.3,255.4 L334.3,237.3" stroke="#429638" stroke-width="1.1"/><path d="M334.3,250.5 Q328.2,249.2 323.9,254.2 Q330.0,254.3 334.3,250.5 Z" fill="#429638"/><path d="M334.3,249.3 Q339.7,253.0 346.5,252.7 Q341.1,247.8 334.3,249.3 Z" fill="#429638"/><path d="M334.3,245.7 Q329.8,241.0 323.8,242.8 Q328.3,246.4 334.3,245.7 Z" fill="#6abd4a"/><path d="M334.3,244.5 Q339.6,245.8 343.9,242.8 Q338.6,240.3 334.3,244.5 Z" fill="#6abd4a"/><path d="M334.3,248.1 Q337.2,242.2 334.9,237.3 Q332.0,242.0 334.3,248.1 Z" fill="#6abd4a"/><path d="M334.3,242.1 Q333.3,235.3 328.5,231.8 Q329.6,237.4 334.3,242.1 Z" fill="#82cc56"/><path d="M334.3,240.9 Q337.9,235.6 337.4,230.3 Q333.8,234.4 334.3,240.9 Z" fill="#6abd4a"/><path d="M263.9,255.5 L263.9,237.6" stroke="#368730" stroke-width="1.1"/><path d="M263.9,250.7 Q257.1,248.7 251.4,253.1 Q258.2,254.0 263.9,250.7 Z" fill="#368730"/><path d="M263.9,249.5 Q268.1,253.4 274.1,253.4 Q270.0,248.4 263.9,249.5 Z" fill="#368730"/><path d="M263.9,246.0 Q258.1,242.7 252.5,246.1 Q258.2,248.3 263.9,246.0 Z" fill="#6abd4a"/><path d="M263.9,244.8 Q269.9,246.8 275.8,244.5 Q269.8,241.2 263.9,244.8 Z" fill="#6abd4a"/><path d="M263.9,248.4 Q266.8,242.5 264.5,237.6 Q261.6,242.2 263.9,248.4 Z" fill="#6abd4a"/><path d="M263.9,242.4 Q262.1,236.1 257.0,233.5 Q258.8,238.6 263.9,242.4 Z" fill="#8cd25c"/><path d="M263.9,241.2 Q268.0,238.1 268.6,233.9 Q264.5,235.8 263.9,241.2 Z" fill="#6abd4a"/><path d="M326.3,256.3 L326.7,238.2" stroke="#3a8e34" stroke-width="1.1"/><path d="M326.3,251.4 Q319.6,249.1 313.7,253.3 Q320.4,254.4 326.3,251.4 Z" fill="#3a8e34"/><path d="M326.3,250.2 Q332.0,252.8 338.1,251.1 Q332.4,247.4 326.3,250.2 Z" fill="#3a8e34"/><path d="M326.3,246.6 Q322.6,242.2 317.7,244.5 Q321.3,247.7 326.3,246.6 Z" fill="#58b042"/><path d="M326.3,245.4 Q332.6,246.2 337.6,242.8 Q331.3,240.8 326.3,245.4 Z" fill="#58b042"/><path d="M326.3,249.0 Q328.9,243.0 326.3,238.2 Q323.7,243.0 326.3,249.0 Z" fill="#58b042"/><path d="M326.3,243.0 Q326.2,235.7 322.1,231.0 Q322.2,237.1 326.3,243.0 Z" fill="#8cd25c"/><path d="M326.3,241.8 Q330.2,237.4 330.2,232.6 Q326.3,235.8 326.3,241.8 Z" fill="#58b042"/><path d="M318.2,257.2 L317.9,239.1" stroke="#429638" stroke-width="1.1"/><path d="M318.2,252.3 Q311.9,250.6 307.0,255.3 Q313.3,255.8 318.2,252.3 Z" fill="#429638"/><path d="M318.2,251.1 Q322.8,254.0 328.2,252.6 Q323.6,248.6 318.2,251.1 Z" fill="#429638"/><path d="M318.2,247.5 Q312.9,244.1 307.6,247.4 Q312.9,249.7 318.2,247.5 Z" fill="#6abd4a"/><path d="M318.2,246.3 Q322.9,248.4 327.4,246.1 Q322.8,242.8 318.2,246.3 Z" fill="#6abd4a"/><path d="M318.2,249.9 Q320.4,243.7 317.3,239.1 Q315.2,244.1 318.2,249.9 Z" fill="#6abd4a"/><path d="M318.2,243.9 Q317.9,237.8 313.8,234.8 Q314.1,239.7 318.2,243.9 Z" fill="#82cc56"/><path d="M318.2,242.7 Q322.4,238.5 322.9,233.6 Q318.7,236.6 318.2,242.7 Z" fill="#6abd4a"/><path d="M310.2,258.1 L310.6,239.9" stroke="#368730" stroke-width="1.1"/><path d="M310.2,253.2 Q304.5,251.0 299.8,255.2 Q305.5,256.3 310.2,253.2 Z" fill="#368730"/><path d="M310.2,252.0 Q315.9,254.7 322.2,253.3 Q316.4,249.4 310.2,252.0 Z" fill="#368730"/><path d="M310.2,248.4 Q306.3,244.6 301.9,247.5 Q305.7,250.1 310.2,248.4 Z" fill="#5fb645"/><path d="M310.2,247.2 Q315.0,249.3 319.8,247.0 Q314.9,243.7 310.2,247.2 Z" fill="#5fb645"/><path d="M310.2,250.8 Q312.7,244.8 310.0,239.9 Q307.5,244.8 310.2,250.8 Z" fill="#5fb645"/><path d="M310.2,244.8 Q308.3,238.0 303.1,234.8 Q304.9,240.4 310.2,244.8 Z" fill="#7ac852"/><path d="M310.2,243.6 Q313.7,239.8 313.2,235.6 Q309.7,238.2 310.2,243.6 Z" fill="#5fb645"/><path d="M302.1,259.0 L302.6,240.8" stroke="#429638" stroke-width="1.1"/><path d="M302.1,254.1 Q296.3,253.1 292.6,258.2 Q298.4,258.1 302.1,254.1 Z" fill="#429638"/><path d="M302.1,252.9 Q307.6,256.5 314.5,256.0 Q308.9,251.2 302.1,252.9 Z" fill="#429638"/><path d="M302.1,249.3 Q298.2,244.8 292.9,247.0 Q296.8,250.3 302.1,249.3 Z" fill="#6abd4a"/><path d="M302.1,248.1 Q307.0,249.9 311.4,247.4 Q306.5,244.3 302.1,248.1 Z" fill="#6abd4a"/><path d="M302.1,251.7 Q304.6,245.6 301.9,240.8 Q299.4,245.7 302.1,251.7 Z" fill="#6abd4a"/><path d="M302.1,245.7 Q300.8,237.8 295.8,233.1 Q297.1,239.7 302.1,245.7 Z" fill="#8cd25c"/><path d="M302.1,244.5 Q306.3,240.5 306.9,235.7 Q302.6,238.5 302.1,244.5 Z" fill="#6abd4a"/><path d="M294.0,259.9 L293.5,241.7" stroke="#3a8e34" stroke-width="1.1"/><path d="M294.0,255.0 Q288.1,252.2 282.6,255.9 Q288.5,257.6 294.0,255.0 Z" fill="#3a8e34"/><path d="M294.0,253.8 Q298.9,256.5 304.4,254.9 Q299.5,251.1 294.0,253.8 Z" fill="#3a8e34"/><path d="M294.0,250.2 Q289.4,246.4 284.2,249.3 Q288.9,252.0 294.0,250.2 Z" fill="#5fb645"/><path d="M294.0,249.0 Q298.8,250.8 303.0,248.3 Q298.3,245.2 294.0,249.0 Z" fill="#5fb645"/><path d="M294.0,252.6 Q296.6,246.6 294.0,241.7 Q291.4,246.6 294.0,252.6 Z" fill="#5fb645"/><path d="M294.0,246.6 Q292.1,240.1 286.8,237.4 Q288.8,242.7 294.0,246.6 Z" fill="#82cc56"/><path d="M294.0,245.4 Q297.9,240.2 297.9,234.8 Q294.0,238.8 294.0,245.4 Z" fill="#5fb645"/><path d="M286.0,260.8 L285.6,242.6" stroke="#3a8e34" stroke-width="1.1"/><path d="M286.0,255.9 Q280.5,253.4 275.7,257.5 Q281.3,258.8 286.0,255.9 Z" fill="#3a8e34"/><path d="M286.0,254.7 Q291.2,258.7 298.1,258.7 Q292.9,253.6 286.0,254.7 Z" fill="#3a8e34"/><path d="M286.0,251.1 Q280.0,247.7 274.1,251.1 Q280.0,253.3 286.0,251.1 Z" fill="#5fb645"/><path d="M286.0,249.9 Q292.0,251.7 297.6,249.0 Q291.6,246.1 286.0,249.9 Z" fill="#5fb645"/><path d="M286.0,253.5 Q288.6,247.5 286.1,242.6 Q283.4,247.4 286.0,253.5 Z" fill="#5fb645"/><path d="M286.0,247.5 Q285.1,240.5 280.6,236.7 Q281.4,242.4 286.0,247.5 Z" fill="#8cd25c"/><path d="M286.0,246.3 Q290.3,241.3 290.8,235.8 Q286.5,239.6 286.0,246.3 Z" fill="#5fb645"/><path d="M349.2,261.0 L349.2,242.6" stroke="#3a8e34" stroke-width="1.1"/><path d="M349.2,256.1 Q343.1,253.5 337.8,257.5 Q343.8,258.9 349.2,256.1 Z" fill="#3a8e34"/><path d="M349.2,254.9 Q352.9,258.4 358.5,258.2 Q354.7,253.4 349.2,254.9 Z" fill="#3a8e34"/><path d="M349.2,251.2 Q343.3,247.3 337.0,250.2 Q342.8,252.9 349.2,251.2 Z" fill="#5fb645"/><path d="M349.2,250.0 Q355.8,250.8 361.2,247.3 Q354.6,245.3 349.2,250.0 Z" fill="#5fb645"/><path d="M349.2,253.6 Q351.5,247.4 348.6,242.6 Q346.3,247.7 349.2,253.6 Z" fill="#5fb645"/><path d="M349.2,247.5 Q348.3,240.5 343.7,236.5 Q344.6,242.3 349.2,247.5 Z" fill="#82cc56"/><path d="M349.2,246.3 Q353.6,242.8 354.6,238.2 Q350.2,240.5 349.2,246.3 Z" fill="#5fb645"/><path d="M277.9,261.7 L277.5,243.5" stroke="#3a8e34" stroke-width="1.1"/><path d="M277.9,256.8 Q271.7,255.9 267.5,261.2 Q273.8,260.9 277.9,256.8 Z" fill="#3a8e34"/><path d="M277.9,255.6 Q283.3,258.7 289.7,257.7 Q284.3,253.4 277.9,255.6 Z" fill="#3a8e34"/><path d="M277.9,252.0 Q273.4,247.8 267.9,250.3 Q272.4,253.3 277.9,252.0 Z" fill="#58b042"/><path d="M277.9,250.8 Q282.8,253.2 287.8,251.2 Q283.0,247.6 277.9,250.8 Z" fill="#58b042"/><path d="M277.9,254.4 Q280.1,248.2 277.1,243.5 Q274.9,248.6 277.9,254.4 Z" fill="#58b042"/><path d="M277.9,248.4 Q277.2,240.9 272.7,236.2 Q273.4,242.5 277.9,248.4 Z" fill="#7ac852"/><path d="M277.9,247.2 Q283.0,242.7 284.7,237.1 Q279.5,240.3 277.9,247.2 Z" fill="#58b042"/><path d="M341.0,261.9 L340.9,243.6" stroke="#368730" stroke-width="1.1"/><path d="M341.0,257.0 Q335.2,255.5 331.0,260.3 Q336.8,260.6 341.0,257.0 Z" fill="#368730"/><path d="M341.0,255.8 Q346.6,259.4 353.4,258.8 Q347.9,254.1 341.0,255.8 Z" fill="#368730"/><path d="M341.0,252.1 Q335.7,248.2 329.8,251.1 Q335.2,253.8 341.0,252.1 Z" fill="#5fb645"/><path d="M341.0,250.9 Q346.1,253.1 351.1,250.8 Q346.0,247.5 341.0,250.9 Z" fill="#5fb645"/><path d="M341.0,254.6 Q343.6,248.5 341.1,243.6 Q338.4,248.5 341.0,254.6 Z" fill="#5fb645"/><path d="M341.0,248.5 Q339.4,241.5 334.2,238.0 Q335.9,243.8 341.0,248.5 Z" fill="#82cc56"/><path d="M341.0,247.2 Q346.2,242.6 347.8,236.8 Q342.6,240.3 341.0,247.2 Z" fill="#5fb645"/><path d="M269.9,262.6 L269.6,244.4" stroke="#368730" stroke-width="1.1"/><path d="M269.9,257.7 Q263.2,256.2 258.0,261.1 Q264.6,261.4 269.9,257.7 Z" fill="#368730"/><path d="M269.9,256.5 Q275.5,260.1 282.4,259.6 Q276.8,254.9 269.9,256.5 Z" fill="#368730"/><path d="M269.9,252.9 Q264.4,249.6 259.0,253.2 Q264.5,255.2 269.9,252.9 Z" fill="#5fb645"/><path d="M269.9,251.7 Q275.2,252.7 279.3,249.5 Q274.0,247.3 269.9,251.7 Z" fill="#5fb645"/><path d="M269.9,255.3 Q272.8,249.5 270.6,244.4 Q267.7,249.1 269.9,255.3 Z" fill="#5fb645"/><path d="M269.9,249.3 Q269.1,242.6 264.6,239.1 Q265.3,244.6 269.9,249.3 Z" fill="#82cc56"/><path d="M269.9,248.1 Q274.3,245.1 275.3,240.7 Q270.9,242.5 269.9,248.1 Z" fill="#5fb645"/><path d="M332.9,262.9 L333.1,244.5" stroke="#429638" stroke-width="1.1"/><path d="M332.9,258.0 Q327.5,255.9 323.3,260.2 Q328.7,261.1 332.9,258.0 Z" fill="#429638"/><path d="M332.9,256.8 Q338.3,260.1 344.8,259.3 Q339.4,254.8 332.9,256.8 Z" fill="#429638"/><path d="M332.9,253.1 Q327.9,248.6 321.8,250.7 Q326.8,254.1 332.9,253.1 Z" fill="#6abd4a"/><path d="M332.9,251.9 Q339.0,252.5 343.6,249.0 Q337.5,247.1 332.9,251.9 Z" fill="#6abd4a"/><path d="M332.9,255.5 Q335.9,249.6 333.7,244.5 Q330.7,249.2 332.9,255.5 Z" fill="#6abd4a"/><path d="M332.9,249.4 Q331.1,241.4 325.6,236.5 Q327.4,243.4 332.9,249.4 Z" fill="#8cd25c"/><path d="M332.9,248.2 Q336.5,244.6 336.2,240.6 Q332.6,242.9 332.9,248.2 Z" fill="#6abd4a"/><path d="M324.7,263.9 L324.3,245.5" stroke="#429638" stroke-width="1.1"/><path d="M324.7,259.0 Q317.7,257.3 311.9,262.2 Q319.0,262.6 324.7,259.0 Z" fill="#429638"/><path d="M324.7,257.7 Q329.8,261.2 336.3,260.7 Q331.2,256.0 324.7,257.7 Z" fill="#429638"/><path d="M324.7,254.1 Q320.9,249.3 315.4,251.1 Q319.2,254.7 324.7,254.1 Z" fill="#5fb645"/><path d="M324.7,252.8 Q330.5,254.1 335.4,251.1 Q329.6,248.6 324.7,252.8 Z" fill="#5fb645"/><path d="M324.7,256.5 Q327.6,250.5 325.4,245.5 Q322.4,250.2 324.7,256.5 Z" fill="#5fb645"/><path d="M324.7,250.4 Q324.3,244.1 320.1,240.9 Q320.5,246.0 324.7,250.4 Z" fill="#8cd25c"/><path d="M324.7,249.2 Q328.3,245.4 327.9,241.3 Q324.4,243.8 324.7,249.2 Z" fill="#5fb645"/><path d="M316.6,264.8 L316.3,246.4" stroke="#368730" stroke-width="1.1"/><path d="M316.6,259.9 Q310.3,256.9 304.4,260.5 Q310.6,262.3 316.6,259.9 Z" fill="#368730"/><path d="M316.6,258.7 Q322.2,262.6 329.4,262.5 Q323.7,257.4 316.6,258.7 Z" fill="#368730"/><path d="M316.6,255.0 Q312.8,250.3 307.3,252.2 Q311.1,255.7 316.6,255.0 Z" fill="#6abd4a"/><path d="M316.6,253.8 Q322.4,255.6 327.9,253.1 Q322.0,250.0 316.6,253.8 Z" fill="#6abd4a"/><path d="M316.6,257.5 Q319.2,251.3 316.5,246.4 Q314.0,251.4 316.6,257.5 Z" fill="#6abd4a"/><path d="M316.6,251.3 Q314.6,244.6 309.3,241.5 Q311.2,247.1 316.6,251.3 Z" fill="#82cc56"/><path d="M316.6,250.1 Q321.2,245.5 322.1,240.0 Q317.5,243.5 316.6,250.1 Z" fill="#6abd4a"/><path d="M308.4,265.8 L308.0,247.4" stroke="#429638" stroke-width="1.1"/><path d="M308.4,260.9 Q302.1,258.4 296.5,262.5 Q302.8,263.8 308.4,260.9 Z" fill="#429638"/><path d="M308.4,259.7 Q314.0,262.6 320.3,261.3 Q314.7,257.2 308.4,259.7 Z" fill="#429638"/><path d="M308.4,256.0 Q302.8,252.9 297.4,256.6 Q303.1,258.5 308.4,256.0 Z" fill="#6abd4a"/><path d="M308.4,254.8 Q313.5,257.0 318.7,254.9 Q313.6,251.4 308.4,254.8 Z" fill="#6abd4a"/><path d="M308.4,258.4 Q311.1,252.4 308.7,247.4 Q305.9,252.3 308.4,258.4 Z" fill="#6abd4a"/><path d="M308.4,252.3 Q306.3,244.8 300.7,240.9 Q302.8,247.2 308.4,252.3 Z" fill="#7ac852"/><path d="M308.4,251.1 Q312.6,247.4 313.1,242.8 Q308.9,245.3 308.4,251.1 Z" fill="#6abd4a"/><path d="M300.3,266.7 L299.8,248.4" stroke="#429638" stroke-width="1.1"/><path d="M300.3,261.8 Q294.1,260.3 289.5,265.1 Q295.7,265.5 300.3,261.8 Z" fill="#429638"/><path d="M300.3,260.6 Q305.9,263.9 312.6,263.1 Q307.0,258.6 300.3,260.6 Z" fill="#429638"/><path d="M300.3,256.9 Q295.1,252.8 289.2,255.5 Q294.4,258.4 300.3,256.9 Z" fill="#6abd4a"/><path d="M300.3,255.7 Q306.0,256.8 310.7,253.7 Q304.9,251.3 300.3,255.7 Z" fill="#6abd4a"/><path d="M300.3,259.4 Q303.1,253.4 300.8,248.4 Q297.9,253.2 300.3,259.4 Z" fill="#6abd4a"/><path d="M300.3,253.3 Q298.2,245.7 292.7,241.6 Q294.7,248.0 300.3,253.3 Z" fill="#8cd25c"/><path d="M300.3,252.0 Q303.9,247.9 303.6,243.5 Q300.0,246.4 300.3,252.0 Z" fill="#6abd4a"/><path d="M356.0,267.5 L355.8,248.9" stroke="#3a8e34" stroke-width="1.1"/><path d="M356.0,262.5 Q350.6,260.0 346.1,264.0 Q351.5,265.3 356.0,262.5 Z" fill="#3a8e34"/><path d="M356.0,261.3 Q362.1,264.0 368.9,262.6 Q362.7,258.7 356.0,261.3 Z" fill="#3a8e34"/><path d="M356.0,257.5 Q350.3,253.9 344.4,257.1 Q350.1,259.5 356.0,257.5 Z" fill="#6abd4a"/><path d="M356.0,256.3 Q361.9,257.0 366.4,253.5 Q360.5,251.6 356.0,256.3 Z" fill="#6abd4a"/><path d="M356.0,260.0 Q358.7,253.9 356.2,248.9 Q353.5,253.8 356.0,260.0 Z" fill="#6abd4a"/><path d="M356.0,253.8 Q353.8,246.9 348.3,243.8 Q350.5,249.5 356.0,253.8 Z" fill="#8cd25c"/><path d="M356.0,252.6 Q360.6,249.0 361.7,244.3 Q357.1,246.6 356.0,252.6 Z" fill="#6abd4a"/><path d="M292.1,267.7 L291.7,249.3" stroke="#368730" stroke-width="1.1"/><path d="M292.1,262.8 Q286.4,261.7 282.8,266.8 Q288.5,266.7 292.1,262.8 Z" fill="#368730"/><path d="M292.1,261.6 Q297.7,264.6 304.1,263.5 Q298.5,259.3 292.1,261.6 Z" fill="#368730"/><path d="M292.1,257.9 Q287.8,253.7 282.4,256.2 Q286.8,259.2 292.1,257.9 Z" fill="#6abd4a"/><path d="M292.1,256.7 Q297.3,258.1 301.7,255.2 Q296.5,252.6 292.1,256.7 Z" fill="#6abd4a"/><path d="M292.1,260.3 Q294.8,254.3 292.2,249.3 Q289.6,254.2 292.1,260.3 Z" fill="#6abd4a"/><path d="M292.1,254.2 Q290.2,247.8 285.0,245.1 Q286.9,250.4 292.1,254.2 Z" fill="#7ac852"/><path d="M292.1,253.0 Q296.5,249.8 297.5,245.4 Q293.1,247.4 292.1,253.0 Z" fill="#6abd4a"/><path d="M347.7,268.5 L348.0,249.9" stroke="#3a8e34" stroke-width="1.1"/><path d="M347.7,263.5 Q341.9,261.9 337.6,266.6 Q343.4,267.0 347.7,263.5 Z" fill="#3a8e34"/><path d="M347.7,262.3 Q352.6,265.1 358.3,263.8 Q353.4,259.8 347.7,262.3 Z" fill="#3a8e34"/><path d="M347.7,258.6 Q341.8,255.2 335.9,258.7 Q341.9,260.8 347.7,258.6 Z" fill="#58b042"/><path d="M347.7,257.3 Q353.3,259.4 358.8,257.0 Q353.2,253.8 347.7,257.3 Z" fill="#58b042"/><path d="M347.7,261.0 Q350.0,254.7 347.1,249.9 Q344.8,255.0 347.7,261.0 Z" fill="#58b042"/><path d="M347.7,254.8 Q346.4,248.1 341.5,244.8 Q342.8,250.3 347.7,254.8 Z" fill="#8cd25c"/><path d="M347.7,253.6 Q352.3,248.5 353.0,242.7 Q348.5,246.6 347.7,253.6 Z" fill="#58b042"/><path d="M284.0,268.7 L283.7,250.3" stroke="#429638" stroke-width="1.1"/><path d="M284.0,263.8 Q277.5,261.3 271.8,265.4 Q278.2,266.7 284.0,263.8 Z" fill="#429638"/><path d="M284.0,262.5 Q289.1,266.3 295.8,266.1 Q290.7,261.1 284.0,262.5 Z" fill="#429638"/><path d="M284.0,258.9 Q278.8,254.2 272.3,256.3 Q277.6,259.7 284.0,258.9 Z" fill="#58b042"/><path d="M284.0,257.6 Q289.2,258.8 293.3,255.7 Q288.1,253.3 284.0,257.6 Z" fill="#58b042"/><path d="M284.0,261.3 Q286.6,255.2 284.0,250.3 Q281.4,255.2 284.0,261.3 Z" fill="#58b042"/><path d="M284.0,255.2 Q282.2,247.6 276.8,243.5 Q278.6,249.8 284.0,255.2 Z" fill="#8cd25c"/><path d="M284.0,254.0 Q287.7,250.6 287.7,246.5 Q283.9,248.7 284.0,254.0 Z" fill="#58b042"/><path d="M339.5,269.5 L339.9,250.9" stroke="#368730" stroke-width="1.1"/><path d="M339.5,264.6 Q332.7,262.3 326.7,266.6 Q333.5,267.6 339.5,264.6 Z" fill="#368730"/><path d="M339.5,263.3 Q345.4,267.0 352.6,266.7 Q346.7,261.8 339.5,263.3 Z" fill="#368730"/><path d="M339.5,259.6 Q335.2,255.5 330.0,258.1 Q334.3,261.0 339.5,259.6 Z" fill="#5fb645"/><path d="M339.5,258.3 Q344.3,260.2 348.7,257.7 Q343.9,254.6 339.5,258.3 Z" fill="#5fb645"/><path d="M339.5,262.1 Q341.7,255.7 338.7,250.9 Q336.5,256.1 339.5,262.1 Z" fill="#5fb645"/><path d="M339.5,255.9 Q337.7,248.4 332.4,244.2 Q334.1,250.6 339.5,255.9 Z" fill="#82cc56"/><path d="M339.5,254.6 Q343.0,249.7 342.6,244.8 Q339.0,248.5 339.5,254.6 Z" fill="#5fb645"/><path d="M275.8,269.6 L275.8,251.2" stroke="#429638" stroke-width="1.1"/><path d="M275.8,264.7 Q270.0,262.6 265.3,267.0 Q271.2,267.9 275.8,264.7 Z" fill="#429638"/><path d="M275.8,263.5 Q279.9,266.8 285.5,266.1 Q281.4,261.6 275.8,263.5 Z" fill="#429638"/><path d="M275.8,259.8 Q270.6,256.3 265.2,259.5 Q270.4,261.9 275.8,259.8 Z" fill="#58b042"/><path d="M275.8,258.6 Q282.1,260.0 287.7,257.1 Q281.4,254.5 275.8,258.6 Z" fill="#58b042"/><path d="M275.8,262.3 Q278.5,256.2 276.0,251.2 Q273.3,256.1 275.8,262.3 Z" fill="#58b042"/><path d="M275.8,256.1 Q275.3,249.0 270.9,244.8 Q271.5,250.7 275.8,256.1 Z" fill="#82cc56"/><path d="M275.8,254.9 Q279.7,251.0 279.7,246.5 Q275.8,249.2 275.8,254.9 Z" fill="#58b042"/><path d="M331.2,270.5 L331.6,251.9" stroke="#368730" stroke-width="1.1"/><path d="M331.2,265.6 Q325.3,263.9 320.8,268.6 Q326.8,269.1 331.2,265.6 Z" fill="#368730"/><path d="M331.2,264.3 Q336.4,267.2 342.2,265.8 Q337.1,261.8 331.2,264.3 Z" fill="#368730"/><path d="M331.2,260.6 Q327.1,255.9 321.3,257.8 Q325.5,261.3 331.2,260.6 Z" fill="#58b042"/><path d="M331.2,259.4 Q336.3,261.5 341.4,259.2 Q336.3,255.9 331.2,259.4 Z" fill="#58b042"/><path d="M331.2,263.1 Q334.1,257.0 331.7,251.9 Q328.9,256.8 331.2,263.1 Z" fill="#58b042"/><path d="M331.2,256.9 Q330.4,249.3 325.8,244.7 Q326.6,251.1 331.2,256.9 Z" fill="#8cd25c"/><path d="M331.2,255.6 Q335.5,251.2 335.9,246.0 Q331.7,249.3 331.2,255.6 Z" fill="#58b042"/><path d="M323.0,271.6 L323.2,252.9" stroke="#368730" stroke-width="1.1"/><path d="M323.0,266.6 Q317.9,263.9 313.5,267.8 Q318.6,269.3 323.0,266.6 Z" fill="#368730"/><path d="M323.0,265.4 Q328.2,269.0 334.8,268.7 Q329.6,263.8 323.0,265.4 Z" fill="#368730"/><path d="M323.0,261.6 Q317.9,257.6 312.1,260.3 Q317.2,263.2 323.0,261.6 Z" fill="#6abd4a"/><path d="M323.0,260.4 Q329.8,261.0 335.3,257.3 Q328.5,255.5 323.0,260.4 Z" fill="#6abd4a"/><path d="M323.0,264.1 Q325.7,257.9 323.1,252.9 Q320.5,257.9 323.0,264.1 Z" fill="#6abd4a"/><path d="M323.0,257.9 Q321.1,251.0 315.7,247.8 Q317.7,253.5 323.0,257.9 Z" fill="#8cd25c"/><path d="M323.0,256.7 Q328.1,252.6 329.7,247.3 Q324.7,250.2 323.0,256.7 Z" fill="#6abd4a"/><path d="M314.8,272.6 L314.8,254.0" stroke="#3a8e34" stroke-width="1.1"/><path d="M314.8,267.6 Q309.0,265.7 304.5,270.1 Q310.3,270.9 314.8,267.6 Z" fill="#3a8e34"/><path d="M314.8,266.4 Q319.9,270.1 326.5,269.9 Q321.4,265.0 314.8,266.4 Z" fill="#3a8e34"/><path d="M314.8,262.7 Q310.0,258.5 304.4,261.1 Q309.2,264.0 314.8,262.7 Z" fill="#58b042"/><path d="M314.8,261.4 Q321.4,262.4 327.0,259.0 Q320.3,256.9 314.8,261.4 Z" fill="#58b042"/><path d="M314.8,265.1 Q317.6,259.0 315.1,254.0 Q312.4,258.9 314.8,265.1 Z" fill="#58b042"/><path d="M314.8,258.9 Q313.4,252.1 308.4,248.8 Q309.8,254.4 314.8,258.9 Z" fill="#7ac852"/><path d="M314.8,257.7 Q318.4,254.2 318.2,250.2 Q314.6,252.4 314.8,257.7 Z" fill="#58b042"/><path d="M306.5,273.6 L306.3,255.0" stroke="#429638" stroke-width="1.1"/><path d="M306.5,268.6 Q300.5,265.7 294.9,269.4 Q300.9,271.1 306.5,268.6 Z" fill="#429638"/><path d="M306.5,267.4 Q310.3,271.2 316.0,271.3 Q312.3,266.2 306.5,267.4 Z" fill="#429638"/><path d="M306.5,263.7 Q301.7,260.0 296.6,263.1 Q301.4,265.6 306.5,263.7 Z" fill="#58b042"/><path d="M306.5,262.4 Q312.6,263.1 317.3,259.6 Q311.2,257.7 306.5,262.4 Z" fill="#58b042"/><path d="M306.5,266.2 Q308.9,259.9 306.1,255.0 Q303.7,260.1 306.5,266.2 Z" fill="#58b042"/><path d="M306.5,259.9 Q305.1,253.5 300.2,250.6 Q301.6,255.8 306.5,259.9 Z" fill="#82cc56"/><path d="M306.5,258.7 Q311.5,255.8 313.4,251.2 Q308.4,253.0 306.5,258.7 Z" fill="#58b042"/><path d="M362.8,274.0 L362.4,255.1" stroke="#429638" stroke-width="1.1"/><path d="M362.8,268.9 Q357.7,266.0 353.2,269.7 Q358.2,271.4 362.8,268.9 Z" fill="#429638"/><path d="M362.8,267.7 Q368.8,270.3 375.3,268.7 Q369.2,264.9 362.8,267.7 Z" fill="#429638"/><path d="M362.8,263.9 Q357.9,260.3 352.8,263.5 Q357.7,265.9 362.8,263.9 Z" fill="#6abd4a"/><path d="M362.8,262.7 Q369.3,263.4 374.6,260.0 Q368.1,258.0 362.8,262.7 Z" fill="#6abd4a"/><path d="M362.8,266.4 Q365.5,260.2 363.1,255.1 Q360.3,260.1 362.8,266.4 Z" fill="#6abd4a"/><path d="M362.8,260.1 Q362.3,253.6 358.0,250.0 Q358.5,255.3 362.8,260.1 Z" fill="#82cc56"/><path d="M362.8,258.9 Q366.9,255.6 367.4,251.3 Q363.3,253.4 362.8,258.9 Z" fill="#6abd4a"/><path d="M298.3,274.6 L298.6,256.0" stroke="#368730" stroke-width="1.1"/><path d="M298.3,269.7 Q291.8,268.3 287.0,273.3 Q293.5,273.4 298.3,269.7 Z" fill="#368730"/><path d="M298.3,268.4 Q302.6,271.9 308.4,271.5 Q304.1,266.8 298.3,268.4 Z" fill="#368730"/><path d="M298.3,264.7 Q293.3,261.6 288.6,265.4 Q293.6,267.2 298.3,264.7 Z" fill="#58b042"/><path d="M298.3,263.5 Q304.2,265.0 309.4,262.1 Q303.5,259.4 298.3,263.5 Z" fill="#58b042"/><path d="M298.3,267.2 Q301.2,261.1 298.9,256.0 Q296.0,260.8 298.3,267.2 Z" fill="#58b042"/><path d="M298.3,261.0 Q297.9,253.7 293.5,249.2 Q294.0,255.3 298.3,261.0 Z" fill="#82cc56"/><path d="M298.3,259.7 Q302.9,255.1 303.9,249.6 Q299.2,253.0 298.3,259.7 Z" fill="#58b042"/><path d="M354.4,275.1 L354.6,256.2" stroke="#429638" stroke-width="1.1"/><path d="M354.4,270.0 Q348.6,267.8 343.7,272.0 Q349.6,273.1 354.4,270.0 Z" fill="#429638"/><path d="M354.4,268.8 Q360.2,272.6 367.5,272.5 Q361.7,267.4 354.4,268.8 Z" fill="#429638"/><path d="M354.4,265.0 Q348.2,261.6 342.1,265.1 Q348.3,267.2 354.4,265.0 Z" fill="#6abd4a"/><path d="M354.4,263.7 Q360.6,265.9 366.6,263.6 Q360.5,260.3 354.4,263.7 Z" fill="#6abd4a"/><path d="M354.4,267.5 Q356.7,261.1 353.7,256.2 Q351.5,261.4 354.4,267.5 Z" fill="#6abd4a"/><path d="M354.4,261.2 Q354.0,254.4 349.7,250.4 Q350.1,256.1 354.4,261.2 Z" fill="#8cd25c"/><path d="M354.4,260.0 Q358.0,254.1 357.5,248.4 Q353.9,253.1 354.4,260.0 Z" fill="#6abd4a"/><path d="M290.1,275.6 L289.8,257.0" stroke="#3a8e34" stroke-width="1.1"/><path d="M290.1,270.7 Q283.5,267.9 277.3,271.7 Q283.9,273.3 290.1,270.7 Z" fill="#3a8e34"/><path d="M290.1,269.4 Q294.3,273.1 300.2,272.8 Q296.0,267.9 290.1,269.4 Z" fill="#3a8e34"/><path d="M290.1,265.7 Q285.2,261.1 279.0,263.1 Q283.9,266.5 290.1,265.7 Z" fill="#58b042"/><path d="M290.1,264.5 Q296.1,266.6 302.1,264.4 Q296.1,261.0 290.1,264.5 Z" fill="#58b042"/><path d="M290.1,268.2 Q292.3,261.9 289.4,257.0 Q287.1,262.2 290.1,268.2 Z" fill="#58b042"/><path d="M290.1,262.0 Q289.8,255.2 285.7,251.2 Q285.9,256.8 290.1,262.0 Z" fill="#7ac852"/><path d="M290.1,260.7 Q294.8,257.0 296.1,252.0 Q291.4,254.6 290.1,260.7 Z" fill="#58b042"/><path d="M346.1,276.1 L345.8,257.3" stroke="#368730" stroke-width="1.1"/><path d="M346.1,271.1 Q340.2,269.2 335.5,273.7 Q341.5,274.4 346.1,271.1 Z" fill="#368730"/><path d="M346.1,269.8 Q351.8,272.9 358.4,271.9 Q352.7,267.6 346.1,269.8 Z" fill="#368730"/><path d="M346.1,266.1 Q341.9,262.2 337.1,265.0 Q341.3,267.7 346.1,266.1 Z" fill="#58b042"/><path d="M346.1,264.8 Q351.6,265.8 355.7,262.5 Q350.2,260.3 346.1,264.8 Z" fill="#58b042"/><path d="M346.1,268.6 Q348.3,262.2 345.4,257.3 Q343.1,262.5 346.1,268.6 Z" fill="#58b042"/><path d="M346.1,262.3 Q345.0,254.3 340.0,249.2 Q341.2,256.0 346.1,262.3 Z" fill="#7ac852"/><path d="M346.1,261.0 Q350.5,255.8 351.0,250.0 Q346.6,254.1 346.1,261.0 Z" fill="#58b042"/><path d="M281.8,276.7 L281.5,258.0" stroke="#429638" stroke-width="1.1"/><path d="M281.8,271.7 Q275.6,270.2 271.0,275.1 Q277.2,275.4 281.8,271.7 Z" fill="#429638"/><path d="M281.8,270.5 Q286.3,273.3 291.6,272.0 Q287.1,268.0 281.8,270.5 Z" fill="#429638"/><path d="M281.8,266.7 Q277.4,262.7 272.2,265.5 Q276.6,268.3 281.8,266.7 Z" fill="#5fb645"/><path d="M281.8,265.5 Q287.0,267.0 291.4,264.1 Q286.2,261.4 281.8,265.5 Z" fill="#5fb645"/><path d="M281.8,269.2 Q284.3,263.0 281.7,258.0 Q279.1,263.1 281.8,269.2 Z" fill="#5fb645"/><path d="M281.8,263.0 Q281.8,256.4 277.8,252.5 Q277.9,257.9 281.8,263.0 Z" fill="#7ac852"/><path d="M281.8,261.8 Q285.6,256.9 285.5,251.8 Q281.7,255.4 281.8,261.8 Z" fill="#5fb645"/><path d="M337.8,277.2 L337.9,258.4" stroke="#368730" stroke-width="1.1"/><path d="M337.8,272.2 Q331.5,271.2 327.2,276.4 Q333.5,276.2 337.8,272.2 Z" fill="#368730"/><path d="M337.8,270.9 Q342.1,274.9 348.4,275.1 Q344.1,269.9 337.8,270.9 Z" fill="#368730"/><path d="M337.8,267.2 Q332.9,263.1 327.2,265.8 Q332.2,268.7 337.8,267.2 Z" fill="#5fb645"/><path d="M337.8,265.9 Q344.6,266.4 349.9,262.8 Q343.2,261.0 337.8,265.9 Z" fill="#5fb645"/><path d="M337.8,269.7 Q340.6,263.5 338.2,258.4 Q335.4,263.3 337.8,269.7 Z" fill="#5fb645"/><path d="M337.8,263.4 Q336.9,255.9 332.2,251.4 Q333.1,257.7 337.8,263.4 Z" fill="#82cc56"/><path d="M337.8,262.1 Q342.8,257.6 344.3,252.0 Q339.2,255.3 337.8,262.1 Z" fill="#5fb645"/><path d="M329.4,278.3 L329.7,259.4" stroke="#429638" stroke-width="1.1"/><path d="M329.4,273.3 Q322.7,271.1 317.0,275.5 Q323.7,276.5 329.4,273.3 Z" fill="#429638"/><path d="M329.4,272.0 Q334.4,275.3 340.5,274.5 Q335.5,270.0 329.4,272.0 Z" fill="#429638"/><path d="M329.4,268.2 Q325.4,263.9 320.2,266.1 Q324.2,269.3 329.4,268.2 Z" fill="#58b042"/><path d="M329.4,267.0 Q335.8,268.3 341.3,265.3 Q335.0,262.8 329.4,267.0 Z" fill="#58b042"/><path d="M329.4,270.8 Q332.0,264.5 329.4,259.4 Q326.8,264.5 329.4,270.8 Z" fill="#58b042"/><path d="M329.4,264.5 Q327.7,257.1 322.5,253.2 Q324.2,259.3 329.4,264.5 Z" fill="#8cd25c"/><path d="M329.4,263.2 Q334.6,259.4 336.4,254.3 Q331.3,256.8 329.4,263.2 Z" fill="#58b042"/><path d="M321.1,279.4 L320.9,260.5" stroke="#3a8e34" stroke-width="1.1"/><path d="M321.1,274.4 Q314.4,272.6 309.0,277.2 Q315.7,277.8 321.1,274.4 Z" fill="#3a8e34"/><path d="M321.1,273.1 Q326.3,276.8 333.0,276.5 Q327.8,271.6 321.1,273.1 Z" fill="#3a8e34"/><path d="M321.1,269.3 Q315.0,265.7 308.7,269.0 Q314.8,271.3 321.1,269.3 Z" fill="#6abd4a"/><path d="M321.1,268.1 Q327.4,269.7 333.2,267.0 Q326.9,264.1 321.1,268.1 Z" fill="#6abd4a"/><path d="M321.1,271.8 Q323.3,265.4 320.2,260.5 Q318.1,265.8 321.1,271.8 Z" fill="#6abd4a"/><path d="M321.1,265.5 Q319.6,257.3 314.3,252.2 Q315.8,259.3 321.1,265.5 Z" fill="#82cc56"/><path d="M321.1,264.3 Q324.9,260.7 324.9,256.4 Q321.1,258.8 321.1,264.3 Z" fill="#6abd4a"/><path d="M369.5,280.5 L369.8,261.3" stroke="#368730" stroke-width="1.1"/><path d="M369.5,275.4 Q363.8,273.7 359.7,278.4 Q365.4,278.9 369.5,275.4 Z" fill="#368730"/><path d="M369.5,274.1 Q374.9,277.5 381.5,276.9 Q376.1,272.3 369.5,274.1 Z" fill="#368730"/><path d="M369.5,270.3 Q364.8,266.4 359.6,269.4 Q364.3,272.0 369.5,270.3 Z" fill="#58b042"/><path d="M369.5,269.0 Q375.9,269.9 381.0,266.5 Q374.7,264.4 369.5,269.0 Z" fill="#58b042"/><path d="M369.5,272.8 Q372.3,266.6 369.9,261.3 Q367.1,266.4 369.5,272.8 Z" fill="#58b042"/><path d="M369.5,266.4 Q368.2,259.6 363.2,256.0 Q364.6,261.7 369.5,266.4 Z" fill="#82cc56"/><path d="M369.5,265.2 Q373.3,259.7 373.0,254.2 Q369.3,258.4 369.5,265.2 Z" fill="#58b042"/><path d="M312.8,280.5 L313.2,261.6" stroke="#3a8e34" stroke-width="1.1"/><path d="M312.8,275.4 Q306.9,273.2 302.1,277.4 Q307.9,278.5 312.8,275.4 Z" fill="#3a8e34"/><path d="M312.8,274.2 Q318.4,277.9 325.4,277.6 Q319.8,272.7 312.8,274.2 Z" fill="#3a8e34"/><path d="M312.8,270.4 Q308.2,266.0 302.5,268.2 Q307.0,271.4 312.8,270.4 Z" fill="#6abd4a"/><path d="M312.8,269.2 Q318.1,270.5 322.6,267.6 Q317.2,265.0 312.8,269.2 Z" fill="#6abd4a"/><path d="M312.8,272.9 Q315.2,266.6 312.4,261.6 Q310.0,266.7 312.8,272.9 Z" fill="#6abd4a"/><path d="M312.8,266.6 Q311.4,259.6 306.5,255.9 Q307.8,261.7 312.8,266.6 Z" fill="#82cc56"/><path d="M312.8,265.4 Q318.0,260.2 319.6,254.0 Q314.4,258.0 312.8,265.4 Z" fill="#6abd4a"/><path d="M304.5,281.6 L304.8,262.7" stroke="#368730" stroke-width="1.1"/><path d="M304.5,276.5 Q298.8,274.4 294.2,278.7 Q299.9,279.7 304.5,276.5 Z" fill="#368730"/><path d="M304.5,275.3 Q310.1,278.3 316.6,277.1 Q310.9,272.9 304.5,275.3 Z" fill="#368730"/><path d="M304.5,271.5 Q298.4,267.8 292.1,271.0 Q298.2,273.4 304.5,271.5 Z" fill="#58b042"/><path d="M304.5,270.2 Q309.7,272.8 315.4,271.0 Q310.1,267.2 304.5,270.2 Z" fill="#58b042"/><path d="M304.5,274.0 Q307.2,267.8 304.8,262.7 Q302.0,267.7 304.5,274.0 Z" fill="#58b042"/><path d="M304.5,267.7 Q302.4,260.8 297.0,257.5 Q299.0,263.2 304.5,267.7 Z" fill="#82cc56"/><path d="M304.5,266.5 Q309.0,261.1 309.7,255.2 Q305.2,259.4 304.5,266.5 Z" fill="#58b042"/><path d="M361.1,281.6 L361.3,262.5" stroke="#429638" stroke-width="1.1"/><path d="M361.1,276.5 Q355.1,273.5 349.4,277.1 Q355.4,278.9 361.1,276.5 Z" fill="#429638"/><path d="M361.1,275.2 Q366.3,279.3 373.3,279.5 Q368.1,274.2 361.1,275.2 Z" fill="#429638"/><path d="M361.1,271.4 Q357.2,266.9 351.9,269.0 Q355.8,272.3 361.1,271.4 Z" fill="#5fb645"/><path d="M361.1,270.1 Q366.1,271.6 370.3,268.8 Q365.3,266.1 361.1,270.1 Z" fill="#5fb645"/><path d="M361.1,274.0 Q363.5,267.5 360.7,262.5 Q358.3,267.7 361.1,274.0 Z" fill="#5fb645"/><path d="M361.1,267.6 Q360.1,260.2 355.3,255.9 Q356.3,262.1 361.1,267.6 Z" fill="#82cc56"/><path d="M361.1,266.3 Q365.8,263.0 367.2,258.4 Q362.5,260.5 361.1,266.3 Z" fill="#5fb645"/><path d="M296.1,282.6 L296.3,263.8" stroke="#429638" stroke-width="1.1"/><path d="M296.1,277.6 Q289.0,276.2 283.4,281.2 Q290.5,281.4 296.1,277.6 Z" fill="#429638"/><path d="M296.1,276.3 Q300.7,279.6 306.6,278.8 Q302.0,274.4 296.1,276.3 Z" fill="#429638"/><path d="M296.1,272.6 Q291.0,268.9 285.5,272.0 Q290.7,274.5 296.1,272.6 Z" fill="#58b042"/><path d="M296.1,271.3 Q302.1,273.7 308.3,271.7 Q302.3,268.1 296.1,271.3 Z" fill="#58b042"/><path d="M296.1,275.1 Q298.3,268.6 295.2,263.8 Q293.1,269.0 296.1,275.1 Z" fill="#58b042"/><path d="M296.1,268.8 Q294.0,260.6 288.2,255.7 Q290.4,262.7 296.1,268.8 Z" fill="#8cd25c"/><path d="M296.1,267.5 Q301.1,263.8 302.7,258.7 Q297.7,261.3 296.1,267.5 Z" fill="#58b042"/><path d="M352.7,282.8 L352.5,263.6" stroke="#368730" stroke-width="1.1"/><path d="M352.7,277.7 Q347.1,275.0 342.2,278.9 Q347.7,280.3 352.7,277.7 Z" fill="#368730"/><path d="M352.7,276.4 Q358.7,279.6 365.7,278.6 Q359.6,274.2 352.7,276.4 Z" fill="#368730"/><path d="M352.7,272.6 Q346.9,268.3 340.2,270.7 Q346.1,273.8 352.7,272.6 Z" fill="#5fb645"/><path d="M352.7,271.3 Q358.6,272.7 363.7,269.8 Q357.8,267.2 352.7,271.3 Z" fill="#5fb645"/><path d="M352.7,275.1 Q355.5,268.9 353.1,263.6 Q350.3,268.7 352.7,275.1 Z" fill="#5fb645"/><path d="M352.7,268.7 Q350.6,261.8 345.1,258.5 Q347.2,264.3 352.7,268.7 Z" fill="#7ac852"/><path d="M352.7,267.5 Q356.9,263.3 357.2,258.4 Q353.1,261.4 352.7,267.5 Z" fill="#5fb645"/><path d="M287.8,283.7 L287.7,264.9" stroke="#368730" stroke-width="1.1"/><path d="M287.8,278.7 Q281.7,277.8 277.6,283.0 Q283.8,282.7 287.8,278.7 Z" fill="#368730"/><path d="M287.8,277.4 Q293.5,280.7 300.3,280.0 Q294.6,275.5 287.8,277.4 Z" fill="#368730"/><path d="M287.8,273.7 Q282.8,268.8 276.4,270.6 Q281.4,274.3 287.8,273.7 Z" fill="#6abd4a"/><path d="M287.8,272.4 Q294.1,274.4 300.3,272.0 Q293.9,268.8 287.8,272.4 Z" fill="#6abd4a"/><path d="M287.8,276.2 Q290.7,270.1 288.5,264.9 Q285.5,269.8 287.8,276.2 Z" fill="#6abd4a"/><path d="M287.8,269.9 Q286.2,262.7 281.1,259.0 Q282.7,264.9 287.8,269.9 Z" fill="#7ac852"/><path d="M287.8,268.6 Q292.9,265.3 294.8,260.4 Q289.7,262.6 287.8,268.6 Z" fill="#6abd4a"/><path d="M344.3,283.9 L344.2,264.8" stroke="#368730" stroke-width="1.1"/><path d="M344.3,278.8 Q338.8,276.6 334.4,280.9 Q339.9,281.9 344.3,278.8 Z" fill="#368730"/><path d="M344.3,277.5 Q349.8,280.9 356.5,280.2 Q351.0,275.7 344.3,277.5 Z" fill="#368730"/><path d="M344.3,273.7 Q339.7,270.3 335.2,273.7 Q339.7,275.9 344.3,273.7 Z" fill="#6abd4a"/><path d="M344.3,272.4 Q350.1,272.8 354.1,269.1 Q348.3,267.5 344.3,272.4 Z" fill="#6abd4a"/><path d="M344.3,276.3 Q346.6,269.8 343.8,264.8 Q341.4,270.0 344.3,276.3 Z" fill="#6abd4a"/><path d="M344.3,269.9 Q342.9,262.7 337.9,258.8 Q339.3,264.8 344.3,269.9 Z" fill="#8cd25c"/><path d="M344.3,268.6 Q349.1,265.3 350.7,260.5 Q345.8,262.7 344.3,268.6 Z" fill="#6abd4a"/><path d="M335.9,285.1 L336.2,265.9" stroke="#3a8e34" stroke-width="1.1"/><path d="M335.9,280.0 Q330.1,278.2 325.9,282.8 Q331.6,283.4 335.9,280.0 Z" fill="#3a8e34"/><path d="M335.9,278.7 Q340.2,282.5 346.4,282.4 Q342.0,277.4 335.9,278.7 Z" fill="#3a8e34"/><path d="M335.9,274.9 Q331.3,271.2 326.4,274.3 Q331.0,276.8 335.9,274.9 Z" fill="#6abd4a"/><path d="M335.9,273.6 Q342.5,274.8 348.3,271.7 Q341.6,269.3 335.9,273.6 Z" fill="#6abd4a"/><path d="M335.9,277.4 Q338.0,270.9 335.0,265.9 Q332.9,271.3 335.9,277.4 Z" fill="#6abd4a"/><path d="M335.9,271.0 Q334.7,264.3 330.0,260.8 Q331.1,266.3 335.9,271.0 Z" fill="#82cc56"/><path d="M335.9,269.8 Q339.7,265.7 339.7,261.1 Q335.9,264.0 335.9,269.8 Z" fill="#6abd4a"/><path d="M327.5,286.2 L327.0,267.1" stroke="#3a8e34" stroke-width="1.1"/><path d="M327.5,281.1 Q320.8,279.6 315.6,284.5 Q322.2,284.8 327.5,281.1 Z" fill="#3a8e34"/><path d="M327.5,279.8 Q333.5,283.2 340.7,282.5 Q334.6,277.9 327.5,279.8 Z" fill="#3a8e34"/><path d="M327.5,276.0 Q321.5,271.8 314.7,274.3 Q320.7,277.3 327.5,276.0 Z" fill="#6abd4a"/><path d="M327.5,274.7 Q333.2,276.3 338.3,273.6 Q332.6,270.8 327.5,274.7 Z" fill="#6abd4a"/><path d="M327.5,278.5 Q329.9,272.1 327.2,267.1 Q324.7,272.3 327.5,278.5 Z" fill="#6abd4a"/><path d="M327.5,272.2 Q325.2,264.5 319.5,260.3 Q321.8,266.8 327.5,272.2 Z" fill="#8cd25c"/><path d="M327.5,270.9 Q331.9,265.9 332.6,260.2 Q328.2,264.0 327.5,270.9 Z" fill="#6abd4a"/><path d="M376.3,287.0 L376.3,267.6" stroke="#368730" stroke-width="1.1"/><path d="M376.3,281.8 Q369.6,279.2 363.5,283.2 Q370.2,284.6 376.3,281.8 Z" fill="#368730"/><path d="M376.3,280.5 Q380.4,284.2 386.3,284.1 Q382.2,279.2 376.3,280.5 Z" fill="#368730"/><path d="M376.3,276.6 Q370.7,272.8 364.6,275.7 Q370.2,278.3 376.3,276.6 Z" fill="#6abd4a"/><path d="M376.3,275.3 Q381.5,277.5 386.6,275.2 Q381.4,271.9 376.3,275.3 Z" fill="#6abd4a"/><path d="M376.3,279.2 Q379.3,273.0 377.1,267.6 Q374.1,272.6 376.3,279.2 Z" fill="#6abd4a"/><path d="M376.3,272.8 Q374.4,266.0 369.1,262.9 Q371.0,268.5 376.3,272.8 Z" fill="#7ac852"/><path d="M376.3,271.5 Q380.7,267.8 381.5,263.2 Q377.1,265.6 376.3,271.5 Z" fill="#6abd4a"/><path d="M319.0,287.3 L319.3,268.2" stroke="#429638" stroke-width="1.1"/><path d="M319.0,282.2 Q312.0,280.5 306.2,285.2 Q313.2,285.7 319.0,282.2 Z" fill="#429638"/><path d="M319.0,281.0 Q323.9,284.2 329.9,283.3 Q325.0,278.9 319.0,281.0 Z" fill="#429638"/><path d="M319.0,277.1 Q313.4,272.2 306.4,274.0 Q312.0,277.7 319.0,277.1 Z" fill="#58b042"/><path d="M319.0,275.9 Q325.3,278.2 331.7,276.1 Q325.4,272.6 319.0,275.9 Z" fill="#58b042"/><path d="M319.0,279.7 Q321.6,273.4 319.0,268.2 Q316.4,273.4 319.0,279.7 Z" fill="#58b042"/><path d="M319.0,273.3 Q318.0,265.6 313.2,260.9 Q314.2,267.4 319.0,273.3 Z" fill="#7ac852"/><path d="M319.0,272.0 Q323.9,267.6 325.3,262.1 Q320.4,265.3 319.0,272.0 Z" fill="#58b042"/><path d="M367.8,288.2 L368.3,268.8" stroke="#429638" stroke-width="1.1"/><path d="M367.8,283.0 Q361.4,280.1 355.2,283.7 Q361.6,285.4 367.8,283.0 Z" fill="#429638"/><path d="M367.8,281.7 Q372.8,284.3 378.2,282.7 Q373.3,278.9 367.8,281.7 Z" fill="#429638"/><path d="M367.8,277.8 Q362.2,273.0 355.3,274.7 Q360.9,278.4 367.8,277.8 Z" fill="#58b042"/><path d="M367.8,276.6 Q373.3,278.9 378.9,276.8 Q373.4,273.3 367.8,276.6 Z" fill="#58b042"/><path d="M367.8,280.4 Q370.4,274.0 367.7,268.8 Q365.2,274.0 367.8,280.4 Z" fill="#58b042"/><path d="M367.8,274.0 Q367.6,267.6 363.5,264.0 Q363.7,269.2 367.8,274.0 Z" fill="#8cd25c"/><path d="M367.8,272.7 Q371.5,268.1 371.2,263.3 Q367.5,266.7 367.8,272.7 Z" fill="#58b042"/><path d="M310.6,288.5 L311.1,269.4" stroke="#429638" stroke-width="1.1"/><path d="M310.6,283.4 Q303.8,281.6 298.2,286.2 Q305.0,286.8 310.6,283.4 Z" fill="#429638"/><path d="M310.6,282.1 Q315.8,286.1 322.7,286.3 Q317.5,281.0 310.6,282.1 Z" fill="#429638"/><path d="M310.6,278.3 Q306.1,274.1 300.6,276.6 Q305.1,279.6 310.6,278.3 Z" fill="#5fb645"/><path d="M310.6,277.0 Q316.6,277.8 321.1,274.4 Q315.2,272.4 310.6,277.0 Z" fill="#5fb645"/><path d="M310.6,280.8 Q313.7,274.7 311.6,269.4 Q308.5,274.3 310.6,280.8 Z" fill="#5fb645"/><path d="M310.6,274.5 Q310.6,266.9 306.5,261.9 Q306.6,268.2 310.6,274.5 Z" fill="#8cd25c"/><path d="M310.6,273.2 Q314.2,267.9 313.8,262.5 Q310.2,266.6 310.6,273.2 Z" fill="#5fb645"/><path d="M359.3,289.4 L359.7,270.0" stroke="#429638" stroke-width="1.1"/><path d="M359.3,284.2 Q354.0,281.3 349.1,284.9 Q354.4,286.7 359.3,284.2 Z" fill="#429638"/><path d="M359.3,282.9 Q365.1,286.5 372.1,286.1 Q366.4,281.3 359.3,282.9 Z" fill="#429638"/><path d="M359.3,279.1 Q354.0,276.0 349.1,279.8 Q354.4,281.6 359.3,279.1 Z" fill="#5fb645"/><path d="M359.3,277.8 Q364.6,278.5 368.3,275.0 Q363.0,273.1 359.3,277.8 Z" fill="#5fb645"/><path d="M359.3,281.6 Q362.2,275.3 359.8,270.0 Q357.0,275.1 359.3,281.6 Z" fill="#5fb645"/><path d="M359.3,275.2 Q359.1,268.3 354.9,264.3 Q355.2,269.9 359.3,275.2 Z" fill="#8cd25c"/><path d="M359.3,273.9 Q363.4,269.4 363.6,264.4 Q359.6,267.7 359.3,273.9 Z" fill="#5fb645"/><path d="M302.2,289.6 L302.0,270.5" stroke="#368730" stroke-width="1.1"/><path d="M302.2,284.5 Q295.7,281.8 289.7,285.6 Q296.2,287.1 302.2,284.5 Z" fill="#368730"/><path d="M302.2,283.3 Q307.7,285.8 313.6,284.2 Q308.1,280.4 302.2,283.3 Z" fill="#368730"/><path d="M302.2,279.4 Q296.9,274.7 290.4,276.7 Q295.7,280.2 302.2,279.4 Z" fill="#5fb645"/><path d="M302.2,278.2 Q308.7,278.6 313.6,274.9 Q307.1,273.2 302.2,278.2 Z" fill="#5fb645"/><path d="M302.2,282.0 Q305.0,275.7 302.6,270.5 Q299.8,275.5 302.2,282.0 Z" fill="#5fb645"/><path d="M302.2,275.6 Q300.4,267.3 294.8,262.2 Q296.7,269.3 302.2,275.6 Z" fill="#7ac852"/><path d="M302.2,274.3 Q307.4,269.4 309.0,263.5 Q303.8,267.2 302.2,274.3 Z" fill="#5fb645"/><path d="M350.8,290.6 L350.4,271.2" stroke="#368730" stroke-width="1.1"/><path d="M350.8,285.4 Q344.7,282.6 339.0,286.3 Q345.1,288.0 350.8,285.4 Z" fill="#368730"/><path d="M350.8,284.1 Q356.8,288.0 364.2,287.9 Q358.2,282.8 350.8,284.1 Z" fill="#368730"/><path d="M350.8,280.3 Q346.0,276.1 340.5,278.8 Q345.2,281.7 350.8,280.3 Z" fill="#6abd4a"/><path d="M350.8,279.0 Q355.9,281.2 361.0,279.0 Q355.9,275.6 350.8,279.0 Z" fill="#6abd4a"/><path d="M350.8,282.8 Q353.4,276.4 350.8,271.2 Q348.2,276.4 350.8,282.8 Z" fill="#6abd4a"/><path d="M350.8,276.4 Q349.9,268.4 345.1,263.3 Q346.0,270.1 350.8,276.4 Z" fill="#8cd25c"/><path d="M350.8,275.1 Q354.8,269.4 354.8,263.4 Q350.8,268.0 350.8,275.1 Z" fill="#6abd4a"/><path d="M293.8,290.8 L294.2,271.7" stroke="#368730" stroke-width="1.1"/><path d="M293.8,285.7 Q287.7,283.0 282.1,286.8 Q288.2,288.3 293.8,285.7 Z" fill="#368730"/><path d="M293.8,284.4 Q299.0,287.1 304.9,285.7 Q299.7,281.8 293.8,284.4 Z" fill="#368730"/><path d="M293.8,280.6 Q287.7,276.7 281.1,279.6 Q287.2,282.3 293.8,280.6 Z" fill="#6abd4a"/><path d="M293.8,279.3 Q298.7,281.5 303.7,279.3 Q298.7,275.9 293.8,279.3 Z" fill="#6abd4a"/><path d="M293.8,283.1 Q296.1,276.7 293.3,271.7 Q290.9,276.9 293.8,283.1 Z" fill="#6abd4a"/><path d="M293.8,276.8 Q291.7,269.2 286.1,265.1 Q288.2,271.5 293.8,276.8 Z" fill="#8cd25c"/><path d="M293.8,275.5 Q298.2,270.2 298.8,264.4 Q294.4,268.5 293.8,275.5 Z" fill="#6abd4a"/><path d="M342.3,291.8 L342.7,272.4" stroke="#368730" stroke-width="1.1"/><path d="M342.3,286.6 Q336.5,284.0 331.4,288.0 Q337.2,289.4 342.3,286.6 Z" fill="#368730"/><path d="M342.3,285.3 Q347.7,288.1 353.8,286.8 Q348.4,282.8 342.3,285.3 Z" fill="#368730"/><path d="M342.3,281.5 Q337.0,276.9 330.4,278.9 Q335.8,282.3 342.3,281.5 Z" fill="#5fb645"/><path d="M342.3,280.2 Q347.2,282.7 352.6,280.9 Q347.6,277.1 342.3,280.2 Z" fill="#5fb645"/><path d="M342.3,284.0 Q345.4,277.9 343.3,272.4 Q340.2,277.4 342.3,284.0 Z" fill="#5fb645"/><path d="M342.3,277.6 Q342.1,269.7 337.9,264.3 Q338.1,271.0 342.3,277.6 Z" fill="#8cd25c"/><path d="M342.3,276.3 Q346.3,272.6 346.6,268.1 Q342.6,270.6 342.3,276.3 Z" fill="#5fb645"/><path d="M333.8,293.0 L333.4,273.6" stroke="#3a8e34" stroke-width="1.1"/><path d="M333.8,287.8 Q327.7,285.8 322.7,290.2 Q328.8,291.1 333.8,287.8 Z" fill="#3a8e34"/><path d="M333.8,286.5 Q339.1,289.8 345.4,288.9 Q340.2,284.5 333.8,286.5 Z" fill="#3a8e34"/><path d="M333.8,282.7 Q328.3,279.2 322.7,282.6 Q328.2,284.8 333.8,282.7 Z" fill="#58b042"/><path d="M333.8,281.4 Q340.6,282.5 346.5,279.2 Q339.7,276.9 333.8,281.4 Z" fill="#58b042"/><path d="M333.8,285.3 Q336.2,278.8 333.5,273.6 Q331.0,278.9 333.8,285.3 Z" fill="#58b042"/><path d="M333.8,278.8 Q331.5,271.0 325.7,266.8 Q328.0,273.4 333.8,278.8 Z" fill="#7ac852"/><path d="M333.8,277.5 Q337.9,272.1 338.0,266.4 Q334.0,270.6 333.8,277.5 Z" fill="#58b042"/><path d="M325.3,294.2 L325.5,274.8" stroke="#3a8e34" stroke-width="1.1"/><path d="M325.3,289.0 Q318.7,286.2 312.4,289.9 Q319.0,291.6 325.3,289.0 Z" fill="#3a8e34"/><path d="M325.3,287.8 Q329.5,291.1 335.2,290.5 Q331.0,285.9 325.3,287.8 Z" fill="#3a8e34"/><path d="M325.3,283.9 Q320.4,279.4 314.4,281.7 Q319.3,284.9 325.3,283.9 Z" fill="#58b042"/><path d="M325.3,282.6 Q330.3,284.4 334.9,281.8 Q329.9,278.8 325.3,282.6 Z" fill="#58b042"/><path d="M325.3,286.5 Q328.1,280.1 325.7,274.8 Q322.9,280.0 325.3,286.5 Z" fill="#58b042"/><path d="M325.3,280.0 Q324.8,272.9 320.4,268.7 Q320.9,274.6 325.3,280.0 Z" fill="#82cc56"/><path d="M325.3,278.7 Q329.2,273.0 329.2,267.1 Q325.3,271.6 325.3,278.7 Z" fill="#58b042"/><path d="M316.8,295.4 L317.1,276.0" stroke="#368730" stroke-width="1.1"/><path d="M316.8,290.3 Q311.1,288.4 306.9,292.9 Q312.5,293.6 316.8,290.3 Z" fill="#368730"/><path d="M316.8,289.0 Q321.9,291.8 327.8,290.4 Q322.6,286.4 316.8,289.0 Z" fill="#368730"/><path d="M316.8,285.1 Q311.5,282.0 306.5,285.6 Q311.8,287.6 316.8,285.1 Z" fill="#58b042"/><path d="M316.8,283.8 Q321.9,285.1 325.9,282.1 Q320.9,279.6 316.8,283.8 Z" fill="#58b042"/><path d="M316.8,287.7 Q319.6,281.4 317.3,276.0 Q314.5,281.1 316.8,287.7 Z" fill="#58b042"/><path d="M316.8,281.2 Q314.6,273.9 309.1,270.3 Q311.2,276.4 316.8,281.2 Z" fill="#7ac852"/><path d="M316.8,279.9 Q320.8,275.4 320.9,270.4 Q316.9,273.7 316.8,279.9 Z" fill="#58b042"/><path d="M308.3,296.6 L308.5,277.3" stroke="#429638" stroke-width="1.1"/><path d="M308.3,291.5 Q301.7,290.4 297.0,295.5 Q303.5,295.4 308.3,291.5 Z" fill="#429638"/><path d="M308.3,290.2 Q312.8,294.2 319.3,294.3 Q314.7,289.1 308.3,290.2 Z" fill="#429638"/><path d="M308.3,286.3 Q304.7,281.5 299.4,283.2 Q302.9,286.8 308.3,286.3 Z" fill="#5fb645"/><path d="M308.3,285.0 Q314.0,286.0 318.5,282.7 Q312.8,280.5 308.3,285.0 Z" fill="#5fb645"/><path d="M308.3,288.9 Q311.2,282.6 309.0,277.3 Q306.0,282.3 308.3,288.9 Z" fill="#5fb645"/><path d="M308.3,282.4 Q308.0,275.8 303.8,271.9 Q304.1,277.4 308.3,282.4 Z" fill="#82cc56"/><path d="M308.3,281.1 Q313.3,277.0 315.0,271.6 Q309.9,274.6 308.3,281.1 Z" fill="#5fb645"/><path d="M299.8,297.8 L300.2,278.5" stroke="#3a8e34" stroke-width="1.1"/><path d="M299.8,292.7 Q293.3,290.8 288.1,295.3 Q294.5,296.0 299.8,292.7 Z" fill="#3a8e34"/><path d="M299.8,291.4 Q305.1,294.7 311.5,293.9 Q306.2,289.4 299.8,291.4 Z" fill="#3a8e34"/><path d="M299.8,287.5 Q293.2,284.4 286.9,288.1 Q293.5,290.0 299.8,287.5 Z" fill="#6abd4a"/><path d="M299.8,286.2 Q305.3,287.0 309.5,283.6 Q303.9,281.6 299.8,286.2 Z" fill="#6abd4a"/><path d="M299.8,290.1 Q301.9,283.5 298.9,278.5 Q296.8,283.9 299.8,290.1 Z" fill="#6abd4a"/><path d="M299.8,283.6 Q297.9,276.7 292.5,273.3 Q294.4,279.1 299.8,283.6 Z" fill="#82cc56"/><path d="M299.8,282.3 Q303.4,276.6 303.0,270.8 Q299.4,275.4 299.8,282.3 Z" fill="#6abd4a"/></g><line x1="331.2" y1="217.0" x2="331.2" y2="224.0" stroke="#a8b4c4" stroke-width="1.80" /><rect x="327.6" y="199.5" width="7.3" height="7.5" fill="#f0f0ec" stroke="#b9b9b2" stroke-width="0.6"/><rect x="328.5" y="207" width="5.4" height="11.5" fill="#c4c8cc"/><rect x="328.5" y="207" width="1.5" height="11.5" fill="#dde0e4"/><line x1="330.6" y1="193.0" x2="330.6" y2="199.5" stroke="#777" stroke-width="0.70" /><line x1="351.2" y1="218.5" x2="351.2" y2="251.0" stroke="#9fb0c8" stroke-width="2.20" /><line x1="350.6" y1="218.5" x2="350.6" y2="251.0" stroke="#d8e0ea" stroke-width="0.70" /><rect x="347" y="211" width="7.5" height="7.5" fill="#f0f0ec" stroke="#b9b9b2" stroke-width="0.6"/><line x1="350.7" y1="205.5" x2="350.7" y2="211.0" stroke="#777" stroke-width="0.70" /><path d="M349.5,238 Q344,246 346,255 M353,240 Q358,248 356,256" stroke="#1e2a2a" stroke-width="0.9" fill="none"/><g transform="translate(339.0,191.5) rotate(35.0) scale(1.00)"><circle cx="0" cy="0" r="1" fill="#28336e"/><path d="M-2.00,-1.81 A2.7,2.7 0 0 1 2.00,-1.81" fill="none" stroke="#28336e" stroke-width="1.30"/><path d="M-3.55,-3.22 A4.8,4.8 0 0 1 3.55,-3.22" fill="none" stroke="#28336e" stroke-width="1.30"/></g><g transform="translate(357.8,205.5) rotate(35.0) scale(1.00)"><circle cx="0" cy="0" r="1" fill="#28336e"/><path d="M-2.00,-1.81 A2.7,2.7 0 0 1 2.00,-1.81" fill="none" stroke="#28336e" stroke-width="1.30"/><path d="M-3.55,-3.22 A4.8,4.8 0 0 1 3.55,-3.22" fill="none" stroke="#28336e" stroke-width="1.30"/></g><line x1="215.0" y1="308.3" x2="215.0" y2="295.5" stroke="#4a4a3a" stroke-width="0.90" /><circle cx="215.0" cy="295.5" r="1.8" fill="#f2e23a"/><line x1="261.0" y1="299.8" x2="261.0" y2="295.5" stroke="#4a4a3a" stroke-width="0.90" /><circle cx="261.0" cy="295.5" r="1.8" fill="#f2e23a"/><path d="M215.0,318.8 Q215.0,326.8 216.0,331.8" stroke="#9a9a9a" stroke-width="3.4" fill="none"/><path d="M215.0,318.8 Q215.0,326.8 216.0,331.8" stroke="#eeeeee" stroke-width="2.2" fill="none"/><path d="M215.5,324.8 Q216.0,333.0 226.7,333.0" stroke="#8a8a8a" stroke-width="1.6" fill="none"/><path d="M215.5,324.8 Q216.0,333.0 226.7,333.0" stroke="#d8d8d8" stroke-width="0.9" fill="none"/><rect x="225.7" y="331.7" width="6" height="2.6" rx="1.2" fill="#2a2e38"/><rect x="230.2" y="331.7" width="4.5" height="2.6" rx="1.2" fill="#7fb0e0"/><path d="M215.5,324.8 Q216.0,342.5 226.7,342.5" stroke="#8a8a8a" stroke-width="1.6" fill="none"/><path d="M215.5,324.8 Q216.0,342.5 226.7,342.5" stroke="#d8d8d8" stroke-width="0.9" fill="none"/><rect x="225.7" y="341.2" width="6" height="2.6" rx="1.2" fill="#2a2e38"/><rect x="230.2" y="341.2" width="4.5" height="2.6" rx="1.2" fill="#7fb0e0"/><path d="M215.5,324.8 Q216.0,363.0 222.0,363.0" stroke="#8a8a8a" stroke-width="1.6" fill="none"/><path d="M215.5,324.8 Q216.0,363.0 222.0,363.0" stroke="#6a6a66" stroke-width="0.9" fill="none"/><rect x="221.0" y="361.7" width="6" height="2.6" rx="1.2" fill="#2a2e38"/><rect x="225.5" y="361.7" width="4.5" height="2.6" rx="1.2" fill="#7fb0e0"/><path d="M261.0,310.8 Q261.0,318.8 262.0,323.8" stroke="#9a9a9a" stroke-width="3.4" fill="none"/><path d="M261.0,310.8 Q261.0,318.8 262.0,323.8" stroke="#eeeeee" stroke-width="2.2" fill="none"/><path d="M261.5,316.8 Q262.0,325.0 274.2,325.0" stroke="#8a8a8a" stroke-width="1.6" fill="none"/><path d="M261.5,316.8 Q262.0,325.0 274.2,325.0" stroke="#d8d8d8" stroke-width="0.9" fill="none"/><rect x="273.2" y="323.7" width="6" height="2.6" rx="1.2" fill="#2a2e38"/><rect x="277.7" y="323.7" width="4.5" height="2.6" rx="1.2" fill="#7fb0e0"/><path d="M261.5,316.8 Q262.0,334.6 274.2,334.6" stroke="#8a8a8a" stroke-width="1.6" fill="none"/><path d="M261.5,316.8 Q262.0,334.6 274.2,334.6" stroke="#d8d8d8" stroke-width="0.9" fill="none"/><rect x="273.2" y="333.3" width="6" height="2.6" rx="1.2" fill="#2a2e38"/><rect x="277.7" y="333.3" width="4.5" height="2.6" rx="1.2" fill="#7fb0e0"/><path d="M261.5,316.8 Q262.0,354.4 277.4,354.4" stroke="#8a8a8a" stroke-width="1.6" fill="none"/><path d="M261.5,316.8 Q262.0,354.4 277.4,354.4" stroke="#6a6a66" stroke-width="0.9" fill="none"/><rect x="276.4" y="353.1" width="6" height="2.6" rx="1.2" fill="#2a2e38"/><rect x="280.9" y="353.1" width="4.5" height="2.6" rx="1.2" fill="#7fb0e0"/><rect x="209.5" y="308.3" width="11" height="10.5" fill="#f4f4f0" stroke="#b0b0a8" stroke-width="0.7"/><rect x="212.5" y="312.3" width="5" height="1.6" fill="#d8c890"/><rect x="255.5" y="299.8" width="11" height="10.5" fill="#f4f4f0" stroke="#b0b0a8" stroke-width="0.7"/><rect x="258.5" y="303.8" width="5" height="1.6" fill="#d8c890"/><g transform="translate(216.0,282.0) rotate(60.0) scale(1.05)"><circle cx="0" cy="0" r="1" fill="#28336e"/><path d="M-2.00,-1.81 A2.7,2.7 0 0 1 2.00,-1.81" fill="none" stroke="#28336e" stroke-width="1.30"/><path d="M-3.55,-3.22 A4.8,4.8 0 0 1 3.55,-3.22" fill="none" stroke="#28336e" stroke-width="1.30"/></g><g transform="translate(261.0,281.0) rotate(60.0) scale(1.05)"><circle cx="0" cy="0" r="1" fill="#28336e"/><path d="M-2.00,-1.81 A2.7,2.7 0 0 1 2.00,-1.81" fill="none" stroke="#28336e" stroke-width="1.30"/><path d="M-3.55,-3.22 A4.8,4.8 0 0 1 3.55,-3.22" fill="none" stroke="#28336e" stroke-width="1.30"/></g><line x1="220.0" y1="284.5" x2="424.7" y2="239.4" stroke="#7e86cc" stroke-width="1.10" /><line x1="266.5" y1="281.0" x2="430.6" y2="240.6" stroke="#7e86cc" stroke-width="1.10" /><line x1="353.3" y1="193.0" x2="423.7" y2="196.7" stroke="#7e86cc" stroke-width="1.10" /><line x1="363.8" y1="198.5" x2="423.7" y2="199.6" stroke="#7e86cc" stroke-width="1.10" /><polygon points="460.0,341.5 477.0,340.0 480.5,346.0 462.5,347.5" fill="#c4c4c4" stroke="#a8a8a8" stroke-width="0.6"/><rect x="466.5" y="186" width="5" height="157" fill="#e8e8e8"/><rect x="470" y="186" width="1.5" height="157" fill="#c4c4c4"/><rect x="465" y="279" width="8.5" height="4.5" fill="#dcdcdc" stroke="#c0c0c0" stroke-width="0.5"/><rect x="463" y="246" width="21" height="24" fill="#dcd8d0" stroke="#c0bcb4" stroke-width="0.8"/><rect x="480" y="247" width="3.5" height="22.5" fill="#cfcac2"/><line x1="442.0" y1="194.0" x2="488.0" y2="202.0" stroke="#e6e6e6" stroke-width="3.20" /><line x1="442.0" y1="195.6" x2="488.0" y2="203.6" stroke="#bbbbbb" stroke-width="0.60" /><line x1="456.0" y1="206.0" x2="487.0" y2="188.0" stroke="#ececec" stroke-width="3.00" /><line x1="456.0" y1="207.4" x2="487.0" y2="189.4" stroke="#c0c0c0" stroke-width="0.50" /><line x1="457.0" y1="201.0" x2="459.0" y2="208.0" stroke="#555" stroke-width="1.40" /><rect x="440" y="182" width="10.5" height="10" rx="2" fill="#d2be8e"/><line x1="440.0" y1="184.5" x2="450.5" y2="184.5" stroke="#b8a272" stroke-width="0.50" /><line x1="440.0" y1="187.0" x2="450.5" y2="187.0" stroke="#b8a272" stroke-width="0.50" /><line x1="440.0" y1="189.5" x2="450.5" y2="189.5" stroke="#b8a272" stroke-width="0.50" /><rect x="484.5" y="191" width="9" height="10" rx="2" fill="#d2be8e"/><line x1="484.5" y1="193.5" x2="493.5" y2="193.5" stroke="#b8a272" stroke-width="0.50" /><line x1="484.5" y1="196.0" x2="493.5" y2="196.0" stroke="#b8a272" stroke-width="0.50" /><line x1="484.5" y1="198.5" x2="493.5" y2="198.5" stroke="#b8a272" stroke-width="0.50" /><polygon points="437.0,228.5 467.0,215.0 468.5,219.5 439.5,233.5" fill="#e4e4e4" stroke="#b8b8b8" stroke-width="0.5"/><polygon points="437.0,228.5 467.0,215.0 467.6,216.6 437.8,230.2" fill="#505054" /><line x1="455.0" y1="222.5" x2="471.0" y2="223.5" stroke="#aaa" stroke-width="1.20" /><circle cx="448.3" cy="229.3" r="1" fill="#222"/><path d="M480,173 L484,176 L488,174 L486,180 L482,179 Z" fill="#3a3a3a"/><line x1="483.5" y1="180.0" x2="483.5" y2="190.0" stroke="#444" stroke-width="1.60" /><g transform="translate(469.0,183.5) rotate(0.0) scale(1.05)"><circle cx="0" cy="0" r="1" fill="#28336e"/><path d="M-2.00,-1.81 A2.7,2.7 0 0 1 2.00,-1.81" fill="none" stroke="#28336e" stroke-width="1.30"/><path d="M-3.55,-3.22 A4.8,4.8 0 0 1 3.55,-3.22" fill="none" stroke="#28336e" stroke-width="1.30"/></g><line x1="560.3" y1="203.5" x2="560.3" y2="208.0" stroke="#bbb" stroke-width="0.80" /><rect x="552.5" y="208" width="6" height="18.5" fill="#c4c4c4"/><rect x="561.6" y="208" width="5.4" height="18.5" fill="#d2d2d2"/><rect x="558.5" y="208" width="3.1" height="18.5" fill="#eeeeee"/><rect x="549.8" y="227.5" width="21" height="24" fill="#ececec" stroke="#d0d0d0" stroke-width="0.6"/><rect x="549.8" y="229" width="6" height="22" fill="#c8c8c8"/><circle cx="550.2" cy="254.7" r="3.2" fill="#d6d6d6"/><circle cx="568.8" cy="254.7" r="3.2" fill="#d6d6d6"/><circle cx="570" cy="230.5" r="1.6" fill="#cfcfcf"/><polygon points="551.5,257.0 569.5,257.0 571.4,311.0 550.5,311.0" fill="#f1f1f1" stroke="#d6d6d6" stroke-width="0.8"/><path d="M552,258.0 L560.5,262.5 L570,258.0" fill="none" stroke="#b4b4b4" stroke-width="0.8"/><path d="M552,262.2 L560.5,266.7 L570,262.2" fill="none" stroke="#b4b4b4" stroke-width="0.8"/><path d="M552,266.4 L560.5,270.9 L570,266.4" fill="none" stroke="#b4b4b4" stroke-width="0.8"/><path d="M552,270.6 L560.5,275.1 L570,270.6" fill="none" stroke="#b4b4b4" stroke-width="0.8"/><path d="M552,274.8 L560.5,279.3 L570,274.8" fill="none" stroke="#b4b4b4" stroke-width="0.8"/><path d="M552,279.0 L560.5,283.5 L570,279.0" fill="none" stroke="#b4b4b4" stroke-width="0.8"/><path d="M552,283.2 L560.5,287.7 L570,283.2" fill="none" stroke="#b4b4b4" stroke-width="0.8"/><path d="M552,287.4 L560.5,291.9 L570,287.4" fill="none" stroke="#b4b4b4" stroke-width="0.8"/><path d="M552,291.6 L560.5,296.1 L570,291.6" fill="none" stroke="#b4b4b4" stroke-width="0.8"/><path d="M552,295.8 L560.5,300.3 L570,295.8" fill="none" stroke="#b4b4b4" stroke-width="0.8"/><path d="M552,300.0 L560.5,304.5 L570,300.0" fill="none" stroke="#b4b4b4" stroke-width="0.8"/><path d="M552,304.2 L560.5,308.7 L570,304.2" fill="none" stroke="#b4b4b4" stroke-width="0.8"/><path d="M552,308.4 L560.5,312.9 L570,308.4" fill="none" stroke="#b4b4b4" stroke-width="0.8"/><line x1="560.5" y1="257.0" x2="560.5" y2="311.0" stroke="#c8c8c8" stroke-width="0.70" /><path d="M556,231.0 L562.5,234.5 L570,231.0" fill="none" stroke="#c4c4c4" stroke-width="0.7"/><path d="M556,235.2 L562.5,238.7 L570,235.2" fill="none" stroke="#c4c4c4" stroke-width="0.7"/><path d="M556,239.4 L562.5,242.9 L570,239.4" fill="none" stroke="#c4c4c4" stroke-width="0.7"/><path d="M556,243.6 L562.5,247.1 L570,243.6" fill="none" stroke="#c4c4c4" stroke-width="0.7"/><path d="M556,247.8 L562.5,251.3 L570,247.8" fill="none" stroke="#c4c4c4" stroke-width="0.7"/><path d="M558.5,210.0 L560,212.5 L561.6,210.0" fill="none" stroke="#b8b8b8" stroke-width="0.7"/><path d="M558.5,214.2 L560,216.7 L561.6,214.2" fill="none" stroke="#b8b8b8" stroke-width="0.7"/><path d="M558.5,218.4 L560,220.9 L561.6,218.4" fill="none" stroke="#b8b8b8" stroke-width="0.7"/><path d="M558.5,222.6 L560,225.1 L561.6,222.6" fill="none" stroke="#b8b8b8" stroke-width="0.7"/><line x1="496.3" y1="216.5" x2="546.5" y2="227.0" stroke="#e0584a" stroke-width="1.00" /><path d="M541.6,228.5 L546.5,227.0 L542.6,223.7" fill="none" stroke="#e0584a" stroke-width="1.2"/><line x1="576.0" y1="230.5" x2="619.0" y2="235.5" stroke="#e0584a" stroke-width="1.00" /><path d="M614.2,237.4 L619.0,235.5 L614.8,232.5" fill="none" stroke="#e0584a" stroke-width="1.2"/><text x="511.6" y="215.4" transform="rotate(11 511.6 215.4)" font-family="Liberation Sans, sans-serif" font-size="10.4" textLength="25.5" lengthAdjust="spacingAndGlyphs" fill="#dc2a3a" stroke="#dc2a3a" stroke-width="0.25">GPRS</text><ellipse cx="664" cy="266" rx="50" ry="12" fill="url(#glow)"/><rect x="644.6" y="216" width="49.9" height="36.6" fill="#15191f"/><rect x="646.5" y="218" width="46.5" height="33.5" fill="url(#monb)"/><path d="M672,251.5 L676,243 L681,240 L686,236 L692.5,233 L692.5,251.5 Z" fill="#4f7a9a" opacity="0.8"/><rect x="644.6" y="251.8" width="49.9" height="3.9" fill="#d8d8d8"/><rect x="670.5" y="234" width="6" height="1.4" fill="#40c8e8"/><rect x="670.5" y="239" width="6" height="1.4" fill="#40c8e8"/><polygon points="662.0,255.7 672.0,255.7 673.5,261.3 661.0,261.3" fill="#b8b8b8" /><rect x="683.4" y="214.5" width="23.8" height="24.6" fill="#2e323c"/><rect x="688.2" y="216.8" width="18.4" height="20.6" fill="url(#tabg)"/><rect x="682.6" y="244.6" width="25.4" height="16.7" fill="#26324a"/><rect x="684.5" y="246.5" width="22" height="13" fill="#7c7f86"/><rect x="684.5" y="246.5" width="22" height="2" fill="#e4e4e4"/><polygon points="664.0,262.5 706.0,262.0 708.0,271.6 662.8,271.6" fill="#dcdcdc" /><rect x="648.5" y="268.4" width="9.5" height="3.2" rx="1.4" fill="#d0d0d0"/><rect x="624.8" y="224.8" width="8.7" height="32.5" fill="#3a3e44"/><rect x="633.5" y="228" width="36.5" height="28.5" fill="#2b6a80"/><rect x="633.5" y="228" width="36.5" height="2.4" fill="#d8e4ec"/><rect x="624.8" y="237.8" width="8.7" height="1.5" fill="#3cb8a8"/><rect x="626" y="227" width="6" height="1.6" fill="#cfd6dc"/><circle cx="657.1" cy="236.9" r="0.6" fill="#e0d060"/><circle cx="641.4" cy="245.0" r="0.6" fill="#e0d060"/><circle cx="654.3" cy="243.5" r="0.6" fill="#e0d060"/><circle cx="657.2" cy="235.1" r="0.6" fill="#e0d060"/><circle cx="661.0" cy="247.3" r="0.6" fill="#e0d060"/><circle cx="642.0" cy="235.5" r="0.6" fill="#e0d060"/><circle cx="652.4" cy="243.0" r="0.6" fill="#e0d060"/><circle cx="647.4" cy="235.4" r="0.6" fill="#e0d060"/><circle cx="650.3" cy="235.7" r="0.6" fill="#e0d060"/><circle cx="654.6" cy="250.2" r="0.6" fill="#e0d060"/><circle cx="644.4" cy="244.5" r="0.6" fill="#e0d060"/><circle cx="658.2" cy="236.3" r="0.6" fill="#e0d060"/><circle cx="660.0" cy="251.8" r="0.6" fill="#e0d060"/><circle cx="649.9" cy="241.4" r="0.6" fill="#e0d060"/><line x1="637.5" y1="282.5" x2="624.6" y2="312.0" stroke="#e0584a" stroke-width="1.00" /><path d="M624.2,307.5 L624.6,312.0 L628.2,309.2" fill="none" stroke="#e0584a" stroke-width="1.2"/><line x1="662.3" y1="288.0" x2="662.3" y2="307.0" stroke="#e0584a" stroke-width="1.00" /><path d="M660.1,303.0 L662.3,307.0 L664.5,303.0" fill="none" stroke="#e0584a" stroke-width="1.2"/><line x1="689.4" y1="287.7" x2="707.8" y2="311.0" stroke="#e0584a" stroke-width="1.00" /><path d="M703.6,309.2 L707.8,311.0 L707.0,306.5" fill="none" stroke="#e0584a" stroke-width="1.2"/><polygon points="595.6,311.9 619.8,302.2 619.8,316.7 596.6,327.4" fill="#aab4bf" /><polygon points="597.3,312.5 618.3,304.2 618.3,315.7 598.1,325.2" fill="#a8d0e8" /><polygon points="605.0,324.0 611.0,322.0 613.0,327.5 604.3,328.3" fill="#777" /><polygon points="650.5,304.0 673.5,303.2 674.0,320.0 651.5,321.5" fill="#b8bec6" /><polygon points="652.3,305.8 672.0,305.2 672.4,318.4 653.2,319.6" fill="#9cc4e0" /><polygon points="651.5,321.5 674.0,320.0 686.5,331.0 662.0,334.1" fill="#d2d4d8" /><polygon points="660.0,325.0 674.0,324.0 678.0,329.0 664.0,330.0" fill="#b0b3b8" /><polygon points="706.0,308.0 723.2,302.2 722.5,331.0 707.0,339.0" fill="#9aa4ae" /><polygon points="708.0,309.5 721.5,304.5 721.0,329.5 708.5,336.0" fill="#a2cbe4" /><line x1="706.5" y1="308.5" x2="722.8" y2="302.0" stroke="#444" stroke-width="1.10" /><line x1="709.0" y1="325.0" x2="720.0" y2="309.0" stroke="#e8f4fa" stroke-width="1.20" opacity="0.7"/><line x1="600.0" y1="323.0" x2="612.0" y2="306.0" stroke="#e8f4fa" stroke-width="1.20" opacity="0.7"/><line x1="655.0" y1="316.0" x2="664.0" y2="306.0" stroke="#e8f4fa" stroke-width="1.00" opacity="0.6"/>
</svg>
<div class="t" style="left:48px;top:56.5px;letter-spacing:0.1px">“智慧田地方案”</div>
<div class="t" style="left:162px;top:56.5px;">基于精准的农业传感器进行</div>
<div class="t" style="left:39px;top:84px;">实时监测，利用云计算、数据挖掘等技术进行</div>
<div class="t" style="left:39px;top:111.5px;">多层次分析，提高了农业生产对自然环境风险</div>
<div class="t" style="left:39px;top:140px;">的应对能力，使弱势的传统农业成为具有高效</div>
<div class="t" style="left:39px;top:167.3px;">率的现代产业。</div>
<div class="lb" style="left:236px;top:366px;font-size:12.4px;letter-spacing:0.6px">土壤墒情监测系统</div>
<div class="lb" style="left:425px;top:357.6px;font-size:12px;letter-spacing:0.6px">小型农业气象站</div>
<div class="lb" style="left:643px;top:274px;font-size:13px">中央平台</div>
<div class="lb" style="left:631px;top:341.6px;font-size:12.3px;letter-spacing:0.6px">数据查询终端</div>
</body></html>
